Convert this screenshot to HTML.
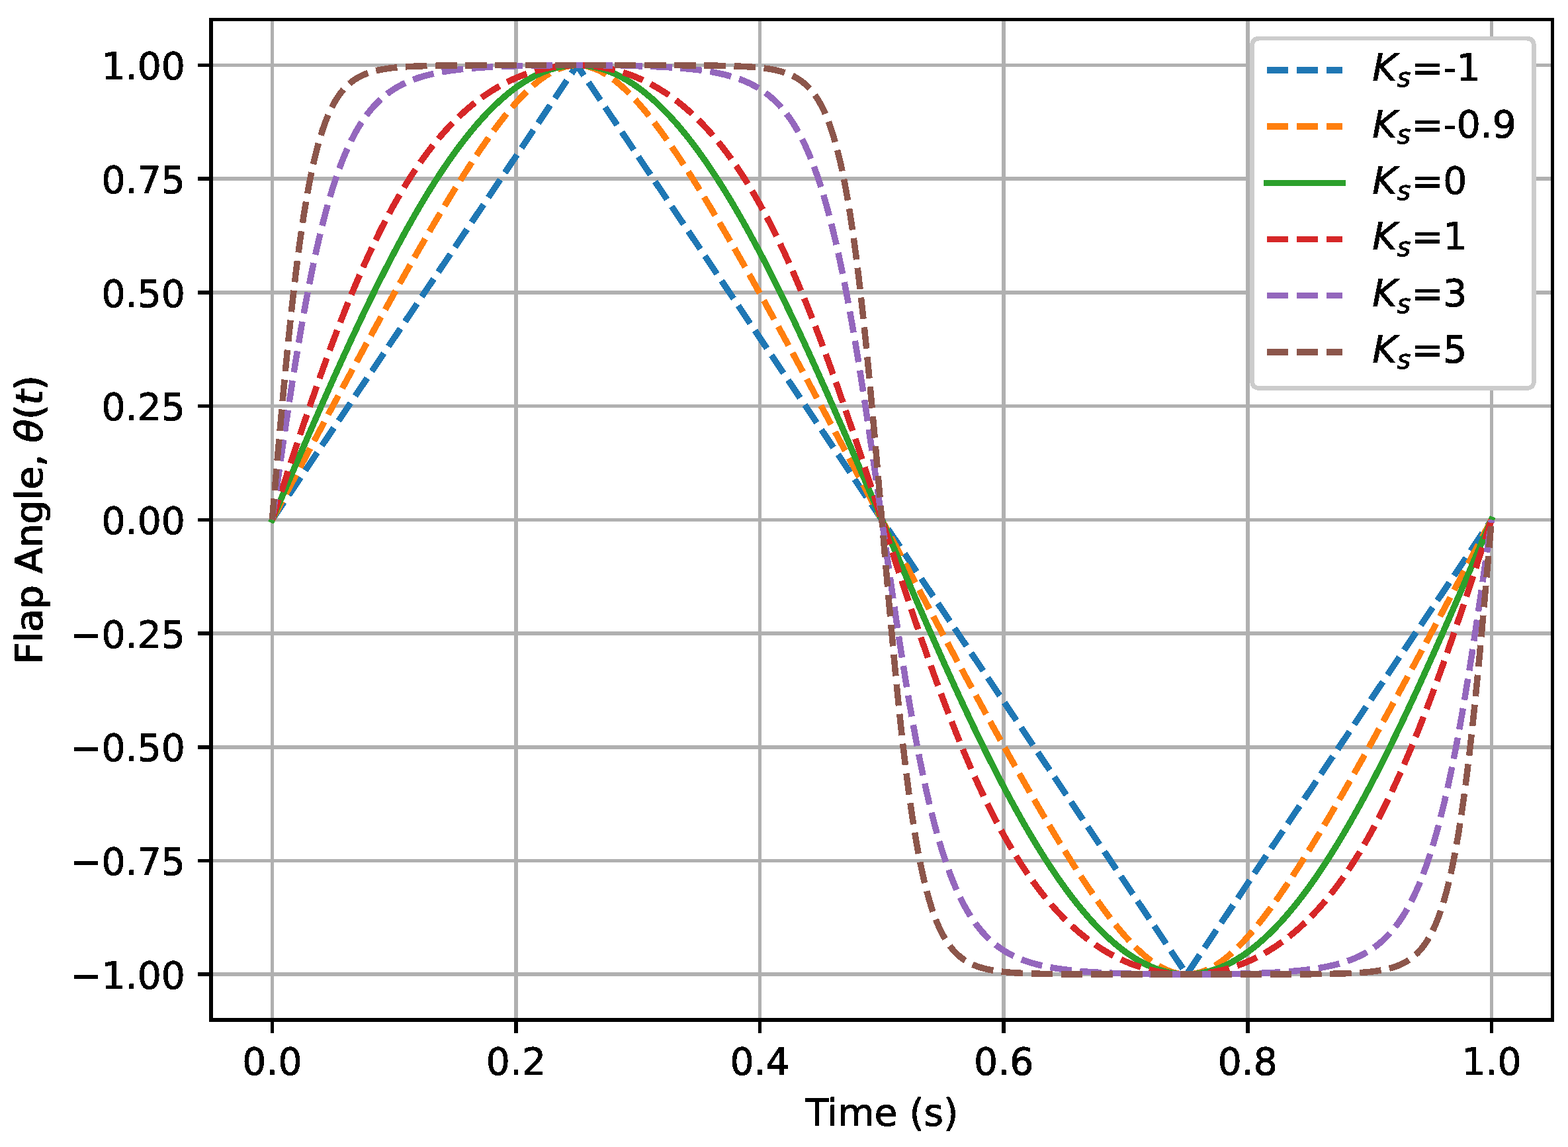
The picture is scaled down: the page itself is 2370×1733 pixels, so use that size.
<!DOCTYPE html>
<html lang="en">
<head>
<meta charset="utf-8">
<title>Flap Angle vs Time</title>
<style>
html,body{margin:0;padding:0;background:#fff}
svg{display:block}
text{font-family:"DejaVu Sans","Liberation Sans",sans-serif;font-size:56.77px;fill:#000;stroke:#000;stroke-width:0.2;stroke-linejoin:miter;text-rendering:geometricPrecision}
.it{font-style:oblique}
.sub{font-style:oblique;font-size:39.74px}
.grid rect{fill:#b0b0b0}
.curve{fill:none;stroke-linejoin:round;stroke-width:9.52}
.dash{stroke-dasharray:32.51 12.63;stroke-dashoffset:0.5}
</style>
</head>
<body>
<svg width="2370" height="1733" viewBox="0 0 2370 1733" role="img" aria-label="Flap angle versus time for several values of K_s">
<defs>
<clipPath id="ax"><rect x="316" y="27" width="2033" height="1517"/></clipPath>
<filter id="crisp" x="0" y="0" width="2370" height="1733" filterUnits="userSpaceOnUse" color-interpolation-filters="sRGB"><feComponentTransfer><feFuncA type="discrete" tableValues="0 1 1 1 1 1 1 1 1 1"/></feComponentTransfer></filter>
</defs>
<rect width="2370" height="1733" fill="#fff"/>
<g class="grid" shape-rendering="crispEdges">
<rect x="409" y="32" width="5" height="1506"/>
<rect x="777" y="32" width="6" height="1506"/>
<rect x="1146" y="32" width="5" height="1506"/>
<rect x="1514" y="32" width="6" height="1506"/>
<rect x="1883" y="32" width="6" height="1506"/>
<rect x="2252" y="32" width="5" height="1506"/>
<rect x="322" y="96" width="2022" height="5"/>
<rect x="322" y="267" width="2022" height="6"/>
<rect x="322" y="439" width="2022" height="6"/>
<rect x="322" y="611" width="2022" height="5"/>
<rect x="322" y="783" width="2022" height="5"/>
<rect x="322" y="954" width="2022" height="6"/>
<rect x="322" y="1126" width="2022" height="6"/>
<rect x="322" y="1298" width="2022" height="5"/>
<rect x="322" y="1469" width="2022" height="6"/>
</g>
<g clip-path="url(#ax)" shape-rendering="crispEdges">
<polyline class="curve dash" stroke="#1f77b4" points="411.4,785.35 413.24,782.6 415.09,779.85 416.93,777.1 418.78,774.35 420.62,771.6 422.47,768.85 424.31,766.1 426.16,763.35 428,760.6 429.85,757.85 431.69,755.1 433.54,752.35 435.38,749.6 437.23,746.85 439.07,744.1 440.92,741.35 442.76,738.6 444.61,735.85 446.45,733.1 448.3,730.35 450.14,727.6 451.99,724.85 453.83,722.1 455.68,719.35 457.52,716.6 459.37,713.85 461.21,711.1 463.06,708.35 464.9,705.6 466.75,702.85 468.59,700.1 470.44,697.35 472.28,694.6 474.12,691.85 475.97,689.1 477.81,686.35 479.66,683.6 481.5,680.85 483.35,678.1 485.19,675.35 487.04,672.6 488.88,669.85 490.73,667.1 492.57,664.35 494.42,661.6 496.26,658.85 498.11,656.1 499.95,653.35 501.8,650.6 503.64,647.85 505.49,645.1 507.33,642.35 509.18,639.6 511.02,636.85 512.87,634.1 514.71,631.35 516.56,628.6 518.4,625.85 520.25,623.1 522.09,620.35 523.94,617.6 525.78,614.85 527.63,612.1 529.47,609.35 531.31,606.6 533.16,603.85 535,601.1 536.85,598.35 538.69,595.6 540.54,592.85 542.38,590.1 544.23,587.35 546.07,584.6 547.92,581.85 549.76,579.1 551.61,576.35 553.45,573.6 555.3,570.85 557.14,568.1 558.99,565.35 560.83,562.6 562.68,559.85 564.52,557.1 566.37,554.35 568.21,551.6 570.06,548.85 571.9,546.1 573.75,543.35 575.59,540.6 577.44,537.85 579.28,535.1 581.13,532.35 582.97,529.6 584.82,526.85 586.66,524.1 588.51,521.35 590.35,518.6 592.19,515.85 594.04,513.1 595.88,510.36 597.73,507.61 599.57,504.86 601.42,502.11 603.26,499.36 605.11,496.61 606.95,493.86 608.8,491.11 610.64,488.36 612.49,485.61 614.33,482.86 616.18,480.11 618.02,477.36 619.87,474.61 621.71,471.86 623.56,469.11 625.4,466.36 627.25,463.61 629.09,460.86 630.94,458.11 632.78,455.36 634.63,452.61 636.47,449.86 638.32,447.11 640.16,444.36 642.01,441.61 643.85,438.86 645.7,436.11 647.54,433.36 649.38,430.61 651.23,427.86 653.07,425.11 654.92,422.36 656.76,419.61 658.61,416.86 660.45,414.11 662.3,411.36 664.14,408.61 665.99,405.86 667.83,403.11 669.68,400.36 671.52,397.61 673.37,394.86 675.21,392.11 677.06,389.36 678.9,386.61 680.75,383.86 682.59,381.11 684.44,378.36 686.28,375.61 688.13,372.86 689.97,370.11 691.82,367.36 693.66,364.61 695.51,361.86 697.35,359.11 699.2,356.36 701.04,353.61 702.89,350.86 704.73,348.11 706.58,345.36 708.42,342.61 710.26,339.86 712.11,337.11 713.95,334.36 715.8,331.61 717.64,328.86 719.49,326.11 721.33,323.36 723.18,320.61 725.02,317.86 726.87,315.11 728.71,312.36 730.56,309.61 732.4,306.86 734.25,304.11 736.09,301.36 737.94,298.61 739.78,295.86 741.63,293.11 743.47,290.36 745.32,287.61 747.16,284.86 749.01,282.11 750.85,279.36 752.7,276.61 754.54,273.86 756.39,271.11 758.23,268.36 760.08,265.61 761.92,262.86 763.77,260.11 765.61,257.36 767.46,254.61 769.3,251.86 771.14,249.11 772.99,246.36 774.83,243.61 776.68,240.86 778.52,238.11 780.37,235.36 782.21,232.61 784.06,229.86 785.9,227.11 787.75,224.36 789.59,221.61 791.44,218.86 793.28,216.11 795.13,213.36 796.97,210.61 798.82,207.86 800.66,205.11 802.51,202.36 804.35,199.61 806.2,196.86 808.04,194.11 809.89,191.36 811.73,188.61 813.58,185.86 815.42,183.11 817.27,180.36 819.11,177.61 820.96,174.86 822.8,172.11 824.65,169.36 826.49,166.61 828.33,163.86 830.18,161.11 832.02,158.36 833.87,155.61 835.71,152.86 837.56,150.11 839.4,147.36 841.25,144.61 843.09,141.86 844.94,139.11 846.78,136.36 848.63,133.61 850.47,130.86 852.32,128.11 854.16,125.36 856.01,122.61 857.85,119.86 859.7,117.11 861.54,114.36 863.39,111.61 865.23,108.86 867.08,106.11 868.92,103.36 870.77,100.61 872.61,99.24 874.46,101.99 876.3,104.74 878.15,107.49 879.99,110.24 881.84,112.99 883.68,115.74 885.53,118.49 887.37,121.24 889.21,123.99 891.06,126.74 892.9,129.49 894.75,132.24 896.59,134.99 898.44,137.74 900.28,140.49 902.13,143.24 903.97,145.99 905.82,148.74 907.66,151.49 909.51,154.24 911.35,156.99 913.2,159.74 915.04,162.49 916.89,165.24 918.73,167.99 920.58,170.74 922.42,173.49 924.27,176.24 926.11,178.99 927.96,181.74 929.8,184.49 931.65,187.24 933.49,189.99 935.34,192.74 937.18,195.49 939.03,198.24 940.87,200.99 942.72,203.74 944.56,206.49 946.41,209.24 948.25,211.99 950.09,214.74 951.94,217.49 953.78,220.24 955.63,222.99 957.47,225.74 959.32,228.49 961.16,231.24 963.01,233.99 964.85,236.73 966.7,239.48 968.54,242.23 970.39,244.98 972.23,247.73 974.08,250.48 975.92,253.23 977.77,255.98 979.61,258.73 981.46,261.48 983.3,264.23 985.15,266.98 986.99,269.73 988.84,272.48 990.68,275.23 992.53,277.98 994.37,280.73 996.22,283.48 998.06,286.23 999.91,288.98 1001.75,291.73 1003.6,294.48 1005.44,297.23 1007.28,299.98 1009.13,302.73 1010.97,305.48 1012.82,308.23 1014.66,310.98 1016.51,313.73 1018.35,316.48 1020.2,319.23 1022.04,321.98 1023.89,324.73 1025.73,327.48 1027.58,330.23 1029.42,332.98 1031.27,335.73 1033.11,338.48 1034.96,341.23 1036.8,343.98 1038.65,346.73 1040.49,349.48 1042.34,352.23 1044.18,354.98 1046.03,357.73 1047.87,360.48 1049.72,363.23 1051.56,365.98 1053.41,368.73 1055.25,371.48 1057.1,374.23 1058.94,376.98 1060.79,379.73 1062.63,382.48 1064.48,385.23 1066.32,387.98 1068.16,390.73 1070.01,393.48 1071.85,396.23 1073.7,398.98 1075.54,401.73 1077.39,404.48 1079.23,407.23 1081.08,409.98 1082.92,412.73 1084.77,415.48 1086.61,418.23 1088.46,420.98 1090.3,423.73 1092.15,426.48 1093.99,429.23 1095.84,431.98 1097.68,434.73 1099.53,437.48 1101.37,440.23 1103.22,442.98 1105.06,445.73 1106.91,448.48 1108.75,451.23 1110.6,453.98 1112.44,456.73 1114.29,459.48 1116.13,462.23 1117.98,464.98 1119.82,467.73 1121.67,470.48 1123.51,473.23 1125.35,475.98 1127.2,478.73 1129.04,481.48 1130.89,484.23 1132.73,486.98 1134.58,489.73 1136.42,492.48 1138.27,495.23 1140.11,497.98 1141.96,500.73 1143.8,503.48 1145.65,506.23 1147.49,508.98 1149.34,511.73 1151.18,514.48 1153.03,517.23 1154.87,519.98 1156.72,522.73 1158.56,525.48 1160.41,528.23 1162.25,530.98 1164.1,533.73 1165.94,536.48 1167.79,539.23 1169.63,541.98 1171.48,544.73 1173.32,547.48 1175.17,550.23 1177.01,552.98 1178.86,555.73 1180.7,558.48 1182.55,561.23 1184.39,563.98 1186.23,566.73 1188.08,569.48 1189.92,572.23 1191.77,574.98 1193.61,577.73 1195.46,580.48 1197.3,583.23 1199.15,585.98 1200.99,588.73 1202.84,591.48 1204.68,594.23 1206.53,596.98 1208.37,599.73 1210.22,602.48 1212.06,605.23 1213.91,607.98 1215.75,610.73 1217.6,613.48 1219.44,616.23 1221.29,618.98 1223.13,621.73 1224.98,624.48 1226.82,627.23 1228.67,629.98 1230.51,632.73 1232.36,635.48 1234.2,638.23 1236.05,640.98 1237.89,643.73 1239.74,646.48 1241.58,649.23 1243.43,651.98 1245.27,654.73 1247.11,657.48 1248.96,660.23 1250.8,662.98 1252.65,665.73 1254.49,668.48 1256.34,671.23 1258.18,673.98 1260.03,676.73 1261.87,679.48 1263.72,682.23 1265.56,684.98 1267.41,687.73 1269.25,690.48 1271.1,693.23 1272.94,695.98 1274.79,698.73 1276.63,701.48 1278.48,704.23 1280.32,706.98 1282.17,709.73 1284.01,712.48 1285.86,715.23 1287.7,717.98 1289.55,720.73 1291.39,723.48 1293.24,726.23 1295.08,728.98 1296.93,731.73 1298.77,734.48 1300.62,737.23 1302.46,739.98 1304.3,742.73 1306.15,745.48 1307.99,748.23 1309.84,750.98 1311.68,753.73 1313.53,756.48 1315.37,759.23 1317.22,761.98 1319.06,764.73 1320.91,767.48 1322.75,770.23 1324.6,772.98 1326.44,775.73 1328.29,778.48 1330.13,781.23 1331.98,783.98 1333.82,786.72 1335.67,789.47 1337.51,792.22 1339.36,794.97 1341.2,797.72 1343.05,800.47 1344.89,803.22 1346.74,805.97 1348.58,808.72 1350.43,811.47 1352.27,814.22 1354.12,816.97 1355.96,819.72 1357.81,822.47 1359.65,825.22 1361.5,827.97 1363.34,830.72 1365.18,833.47 1367.03,836.22 1368.87,838.97 1370.72,841.72 1372.56,844.47 1374.41,847.22 1376.25,849.97 1378.1,852.72 1379.94,855.47 1381.79,858.22 1383.63,860.97 1385.48,863.72 1387.32,866.47 1389.17,869.22 1391.01,871.97 1392.86,874.72 1394.7,877.47 1396.55,880.22 1398.39,882.97 1400.24,885.72 1402.08,888.47 1403.93,891.22 1405.77,893.97 1407.62,896.72 1409.46,899.47 1411.31,902.22 1413.15,904.97 1415,907.72 1416.84,910.47 1418.69,913.22 1420.53,915.97 1422.37,918.72 1424.22,921.47 1426.06,924.22 1427.91,926.97 1429.75,929.72 1431.6,932.47 1433.44,935.22 1435.29,937.97 1437.13,940.72 1438.98,943.47 1440.82,946.22 1442.67,948.97 1444.51,951.72 1446.36,954.47 1448.2,957.22 1450.05,959.97 1451.89,962.72 1453.74,965.47 1455.58,968.22 1457.43,970.97 1459.27,973.72 1461.12,976.47 1462.96,979.22 1464.81,981.97 1466.65,984.72 1468.5,987.47 1470.34,990.22 1472.19,992.97 1474.03,995.72 1475.88,998.47 1477.72,1001.22 1479.57,1003.97 1481.41,1006.72 1483.25,1009.47 1485.1,1012.22 1486.94,1014.97 1488.79,1017.72 1490.63,1020.47 1492.48,1023.22 1494.32,1025.97 1496.17,1028.72 1498.01,1031.47 1499.86,1034.22 1501.7,1036.97 1503.55,1039.72 1505.39,1042.47 1507.24,1045.22 1509.08,1047.97 1510.93,1050.72 1512.77,1053.47 1514.62,1056.22 1516.46,1058.97 1518.31,1061.72 1520.15,1064.47 1522,1067.22 1523.84,1069.97 1525.69,1072.72 1527.53,1075.47 1529.38,1078.22 1531.22,1080.97 1533.07,1083.72 1534.91,1086.47 1536.76,1089.22 1538.6,1091.97 1540.45,1094.72 1542.29,1097.47 1544.13,1100.22 1545.98,1102.97 1547.82,1105.72 1549.67,1108.47 1551.51,1111.22 1553.36,1113.97 1555.2,1116.72 1557.05,1119.47 1558.89,1122.22 1560.74,1124.97 1562.58,1127.72 1564.43,1130.47 1566.27,1133.22 1568.12,1135.97 1569.96,1138.72 1571.81,1141.47 1573.65,1144.22 1575.5,1146.97 1577.34,1149.72 1579.19,1152.47 1581.03,1155.22 1582.88,1157.97 1584.72,1160.72 1586.57,1163.47 1588.41,1166.22 1590.26,1168.97 1592.1,1171.72 1593.95,1174.47 1595.79,1177.22 1597.64,1179.97 1599.48,1182.72 1601.32,1185.47 1603.17,1188.22 1605.01,1190.97 1606.86,1193.72 1608.7,1196.47 1610.55,1199.22 1612.39,1201.97 1614.24,1204.72 1616.08,1207.47 1617.93,1210.22 1619.77,1212.97 1621.62,1215.72 1623.46,1218.47 1625.31,1221.22 1627.15,1223.97 1629,1226.72 1630.84,1229.47 1632.69,1232.22 1634.53,1234.97 1636.38,1237.72 1638.22,1240.47 1640.07,1243.22 1641.91,1245.97 1643.76,1248.72 1645.6,1251.47 1647.45,1254.22 1649.29,1256.97 1651.14,1259.72 1652.98,1262.47 1654.83,1265.22 1656.67,1267.97 1658.52,1270.72 1660.36,1273.47 1662.2,1276.22 1664.05,1278.97 1665.89,1281.72 1667.74,1284.47 1669.58,1287.22 1671.43,1289.97 1673.27,1292.72 1675.12,1295.47 1676.96,1298.22 1678.81,1300.97 1680.65,1303.72 1682.5,1306.47 1684.34,1309.22 1686.19,1311.97 1688.03,1314.72 1689.88,1317.47 1691.72,1320.22 1693.57,1322.97 1695.41,1325.72 1697.26,1328.47 1699.1,1331.22 1700.95,1333.97 1702.79,1336.71 1704.64,1339.46 1706.48,1342.21 1708.33,1344.96 1710.17,1347.71 1712.02,1350.46 1713.86,1353.21 1715.71,1355.96 1717.55,1358.71 1719.39,1361.46 1721.24,1364.21 1723.08,1366.96 1724.93,1369.71 1726.77,1372.46 1728.62,1375.21 1730.46,1377.96 1732.31,1380.71 1734.15,1383.46 1736,1386.21 1737.84,1388.96 1739.69,1391.71 1741.53,1394.46 1743.38,1397.21 1745.22,1399.96 1747.07,1402.71 1748.91,1405.46 1750.76,1408.21 1752.6,1410.96 1754.45,1413.71 1756.29,1416.46 1758.14,1419.21 1759.98,1421.96 1761.83,1424.71 1763.67,1427.46 1765.52,1430.21 1767.36,1432.96 1769.21,1435.71 1771.05,1438.46 1772.9,1441.21 1774.74,1443.96 1776.59,1446.71 1778.43,1449.46 1780.27,1452.21 1782.12,1454.96 1783.96,1457.71 1785.81,1460.46 1787.65,1463.21 1789.5,1465.96 1791.34,1468.71 1793.19,1471.46 1795.03,1470.09 1796.88,1467.34 1798.72,1464.59 1800.57,1461.84 1802.41,1459.09 1804.26,1456.34 1806.1,1453.59 1807.95,1450.84 1809.79,1448.09 1811.64,1445.34 1813.48,1442.59 1815.33,1439.84 1817.17,1437.09 1819.02,1434.34 1820.86,1431.59 1822.71,1428.84 1824.55,1426.09 1826.4,1423.34 1828.24,1420.59 1830.09,1417.84 1831.93,1415.09 1833.78,1412.34 1835.62,1409.59 1837.47,1406.84 1839.31,1404.09 1841.15,1401.34 1843,1398.59 1844.84,1395.84 1846.69,1393.09 1848.53,1390.34 1850.38,1387.59 1852.22,1384.84 1854.07,1382.09 1855.91,1379.34 1857.76,1376.59 1859.6,1373.84 1861.45,1371.09 1863.29,1368.34 1865.14,1365.59 1866.98,1362.84 1868.83,1360.09 1870.67,1357.34 1872.52,1354.59 1874.36,1351.84 1876.21,1349.09 1878.05,1346.34 1879.9,1343.59 1881.74,1340.84 1883.59,1338.09 1885.43,1335.34 1887.28,1332.59 1889.12,1329.84 1890.97,1327.09 1892.81,1324.34 1894.66,1321.59 1896.5,1318.84 1898.34,1316.09 1900.19,1313.34 1902.03,1310.59 1903.88,1307.84 1905.72,1305.09 1907.57,1302.34 1909.41,1299.59 1911.26,1296.84 1913.1,1294.09 1914.95,1291.34 1916.79,1288.59 1918.64,1285.84 1920.48,1283.09 1922.33,1280.34 1924.17,1277.59 1926.02,1274.84 1927.86,1272.09 1929.71,1269.34 1931.55,1266.59 1933.4,1263.84 1935.24,1261.09 1937.09,1258.34 1938.93,1255.59 1940.78,1252.84 1942.62,1250.09 1944.47,1247.34 1946.31,1244.59 1948.16,1241.84 1950,1239.09 1951.85,1236.34 1953.69,1233.59 1955.54,1230.84 1957.38,1228.09 1959.22,1225.34 1961.07,1222.59 1962.91,1219.84 1964.76,1217.09 1966.6,1214.34 1968.45,1211.59 1970.29,1208.84 1972.14,1206.09 1973.98,1203.34 1975.83,1200.59 1977.67,1197.84 1979.52,1195.09 1981.36,1192.34 1983.21,1189.59 1985.05,1186.84 1986.9,1184.09 1988.74,1181.34 1990.59,1178.59 1992.43,1175.84 1994.28,1173.09 1996.12,1170.34 1997.97,1167.59 1999.81,1164.84 2001.66,1162.09 2003.5,1159.34 2005.35,1156.59 2007.19,1153.84 2009.04,1151.09 2010.88,1148.34 2012.73,1145.59 2014.57,1142.84 2016.42,1140.09 2018.26,1137.34 2020.1,1134.59 2021.95,1131.84 2023.79,1129.09 2025.64,1126.34 2027.48,1123.59 2029.33,1120.84 2031.17,1118.09 2033.02,1115.34 2034.86,1112.59 2036.71,1109.84 2038.55,1107.09 2040.4,1104.34 2042.24,1101.59 2044.09,1098.84 2045.93,1096.09 2047.78,1093.34 2049.62,1090.59 2051.47,1087.84 2053.31,1085.09 2055.16,1082.34 2057,1079.59 2058.85,1076.84 2060.69,1074.09 2062.54,1071.34 2064.38,1068.59 2066.23,1065.84 2068.07,1063.09 2069.92,1060.34 2071.76,1057.6 2073.61,1054.85 2075.45,1052.1 2077.29,1049.35 2079.14,1046.6 2080.98,1043.85 2082.83,1041.1 2084.67,1038.35 2086.52,1035.6 2088.36,1032.85 2090.21,1030.1 2092.05,1027.35 2093.9,1024.6 2095.74,1021.85 2097.59,1019.1 2099.43,1016.35 2101.28,1013.6 2103.12,1010.85 2104.97,1008.1 2106.81,1005.35 2108.66,1002.6 2110.5,999.85 2112.35,997.1 2114.19,994.35 2116.04,991.6 2117.88,988.85 2119.73,986.1 2121.57,983.35 2123.42,980.6 2125.26,977.85 2127.11,975.1 2128.95,972.35 2130.8,969.6 2132.64,966.85 2134.49,964.1 2136.33,961.35 2138.17,958.6 2140.02,955.85 2141.86,953.1 2143.71,950.35 2145.55,947.6 2147.4,944.85 2149.24,942.1 2151.09,939.35 2152.93,936.6 2154.78,933.85 2156.62,931.1 2158.47,928.35 2160.31,925.6 2162.16,922.85 2164,920.1 2165.85,917.35 2167.69,914.6 2169.54,911.85 2171.38,909.1 2173.23,906.35 2175.07,903.6 2176.92,900.85 2178.76,898.1 2180.61,895.35 2182.45,892.6 2184.3,889.85 2186.14,887.1 2187.99,884.35 2189.83,881.6 2191.68,878.85 2193.52,876.1 2195.36,873.35 2197.21,870.6 2199.05,867.85 2200.9,865.1 2202.74,862.35 2204.59,859.6 2206.43,856.85 2208.28,854.1 2210.12,851.35 2211.97,848.6 2213.81,845.85 2215.66,843.1 2217.5,840.35 2219.35,837.6 2221.19,834.85 2223.04,832.1 2224.88,829.35 2226.73,826.6 2228.57,823.85 2230.42,821.1 2232.26,818.35 2234.11,815.6 2235.95,812.85 2237.8,810.1 2239.64,807.35 2241.49,804.6 2243.33,801.85 2245.18,799.1 2247.02,796.35 2248.87,793.6 2250.71,790.85 2252.56,788.1 2254.4,785.35"/>
<polyline class="curve dash" stroke="#ff7f0e" points="411.4,785.35 413.24,781.88 415.09,778.41 416.93,774.93 418.78,771.46 420.62,767.99 422.47,764.52 424.31,761.05 426.16,757.58 428,754.11 429.85,750.64 431.69,747.17 433.54,743.7 435.38,740.23 437.23,736.76 439.07,733.29 440.92,729.82 442.76,726.35 444.61,722.88 446.45,719.42 448.3,715.95 450.14,712.48 451.99,709.02 453.83,705.55 455.68,702.09 457.52,698.62 459.37,695.16 461.21,691.7 463.06,688.24 464.9,684.77 466.75,681.31 468.59,677.85 470.44,674.4 472.28,670.94 474.12,667.48 475.97,664.03 477.81,660.57 479.66,657.12 481.5,653.66 483.35,650.21 485.19,646.76 487.04,643.31 488.88,639.86 490.73,636.42 492.57,632.97 494.42,629.52 496.26,626.08 498.11,622.64 499.95,619.2 501.8,615.76 503.64,612.32 505.49,608.88 507.33,605.45 509.18,602.01 511.02,598.58 512.87,595.15 514.71,591.72 516.56,588.29 518.4,584.87 520.25,581.45 522.09,578.02 523.94,574.6 525.78,571.18 527.63,567.77 529.47,564.35 531.31,560.94 533.16,557.53 535,554.12 536.85,550.72 538.69,547.31 540.54,543.91 542.38,540.51 544.23,537.11 546.07,533.72 547.92,530.32 549.76,526.93 551.61,523.55 553.45,520.16 555.3,516.78 557.14,513.4 558.99,510.02 560.83,506.65 562.68,503.27 564.52,499.91 566.37,496.54 568.21,493.18 570.06,489.82 571.9,486.46 573.75,483.11 575.59,479.75 577.44,476.41 579.28,473.06 581.13,469.72 582.97,466.38 584.82,463.05 586.66,459.72 588.51,456.39 590.35,453.07 592.19,449.75 594.04,446.44 595.88,443.12 597.73,439.82 599.57,436.51 601.42,433.21 603.26,429.92 605.11,426.63 606.95,423.34 608.8,420.06 610.64,416.78 612.49,413.51 614.33,410.24 616.18,406.98 618.02,403.72 619.87,400.47 621.71,397.22 623.56,393.98 625.4,390.74 627.25,387.51 629.09,384.28 630.94,381.06 632.78,377.85 634.63,374.64 636.47,371.43 638.32,368.24 640.16,365.04 642.01,361.86 643.85,358.68 645.7,355.51 647.54,352.34 649.38,349.18 651.23,346.03 653.07,342.89 654.92,339.75 656.76,336.62 658.61,333.5 660.45,330.38 662.3,327.28 664.14,324.18 665.99,321.09 667.83,318 669.68,314.93 671.52,311.86 673.37,308.8 675.21,305.76 677.06,302.72 678.9,299.69 680.75,296.67 682.59,293.66 684.44,290.65 686.28,287.66 688.13,284.68 689.97,281.71 691.82,278.75 693.66,275.8 695.51,272.87 697.35,269.94 699.2,267.02 701.04,264.12 702.89,261.23 704.73,258.35 706.58,255.49 708.42,252.63 710.26,249.79 712.11,246.97 713.95,244.15 715.8,241.35 717.64,238.57 719.49,235.8 721.33,233.04 723.18,230.3 725.02,227.57 726.87,224.86 728.71,222.17 730.56,219.49 732.4,216.83 734.25,214.19 736.09,211.56 737.94,208.95 739.78,206.36 741.63,203.79 743.47,201.24 745.32,198.7 747.16,196.19 749.01,193.7 750.85,191.22 752.7,188.77 754.54,186.34 756.39,183.93 758.23,181.54 760.08,179.18 761.92,176.83 763.77,174.52 765.61,172.22 767.46,169.95 769.3,167.71 771.14,165.49 772.99,163.3 774.83,161.13 776.68,158.99 778.52,156.88 780.37,154.8 782.21,152.74 784.06,150.72 785.9,148.72 787.75,146.76 789.59,144.82 791.44,142.92 793.28,141.05 795.13,139.21 796.97,137.4 798.82,135.63 800.66,133.89 802.51,132.19 804.35,130.52 806.2,128.89 808.04,127.3 809.89,125.74 811.73,124.22 813.58,122.74 815.42,121.29 817.27,119.89 819.11,118.53 820.96,117.21 822.8,115.93 824.65,114.69 826.49,113.49 828.33,112.33 830.18,111.22 832.02,110.15 833.87,109.13 835.71,108.15 837.56,107.22 839.4,106.33 841.25,105.49 843.09,104.69 844.94,103.95 846.78,103.25 848.63,102.59 850.47,101.99 852.32,101.43 854.16,100.92 856.01,100.46 857.85,100.05 859.7,99.69 861.54,99.38 863.39,99.11 865.23,98.9 867.08,98.74 868.92,98.63 870.77,98.56 872.61,98.55 874.46,98.59 876.3,98.68 878.15,98.81 879.99,99 881.84,99.24 883.68,99.53 885.53,99.86 887.37,100.25 889.21,100.68 891.06,101.17 892.9,101.7 894.75,102.28 896.59,102.91 898.44,103.59 900.28,104.31 902.13,105.09 903.97,105.91 905.82,106.77 907.66,107.68 909.51,108.64 911.35,109.64 913.2,110.68 915.04,111.77 916.89,112.91 918.73,114.08 920.58,115.3 922.42,116.56 924.27,117.86 926.11,119.21 927.96,120.59 929.8,122.01 931.65,123.47 933.49,124.97 935.34,126.51 937.18,128.09 939.03,129.7 940.87,131.35 942.72,133.04 944.56,134.76 946.41,136.51 948.25,138.3 950.09,140.12 951.94,141.98 953.78,143.87 955.63,145.78 957.47,147.73 959.32,149.72 961.16,151.73 963.01,153.77 964.85,155.84 966.7,157.93 968.54,160.06 970.39,162.21 972.23,164.39 974.08,166.6 975.92,168.83 977.77,171.09 979.61,173.37 981.46,175.67 983.3,178 985.15,180.36 986.99,182.73 988.84,185.13 990.68,187.55 992.53,189.99 994.37,192.46 996.22,194.94 998.06,197.44 999.91,199.97 1001.75,202.51 1003.6,205.07 1005.44,207.66 1007.28,210.26 1009.13,212.87 1010.97,215.51 1012.82,218.16 1014.66,220.83 1016.51,223.52 1018.35,226.22 1020.2,228.94 1022.04,231.67 1023.89,234.42 1025.73,237.18 1027.58,239.96 1029.42,242.75 1031.27,245.56 1033.11,248.38 1034.96,251.21 1036.8,254.06 1038.65,256.92 1040.49,259.79 1042.34,262.68 1044.18,265.57 1046.03,268.48 1047.87,271.4 1049.72,274.33 1051.56,277.28 1053.41,280.23 1055.25,283.2 1057.1,286.17 1058.94,289.16 1060.79,292.15 1062.63,295.16 1064.48,298.18 1066.32,301.2 1068.16,304.24 1070.01,307.28 1071.85,310.33 1073.7,313.39 1075.54,316.46 1077.39,319.54 1079.23,322.63 1081.08,325.73 1082.92,328.83 1084.77,331.94 1086.61,335.06 1088.46,338.18 1090.3,341.32 1092.15,344.46 1093.99,347.61 1095.84,350.76 1097.68,353.93 1099.53,357.09 1101.37,360.27 1103.22,363.45 1105.06,366.64 1106.91,369.83 1108.75,373.03 1110.6,376.24 1112.44,379.45 1114.29,382.67 1116.13,385.9 1117.98,389.12 1119.82,392.36 1121.67,395.6 1123.51,398.84 1125.35,402.1 1127.2,405.35 1129.04,408.61 1130.89,411.88 1132.73,415.15 1134.58,418.42 1136.42,421.7 1138.27,424.99 1140.11,428.27 1141.96,431.57 1143.8,434.86 1145.65,438.17 1147.49,441.47 1149.34,444.78 1151.18,448.09 1153.03,451.41 1154.87,454.73 1156.72,458.06 1158.56,461.39 1160.41,464.72 1162.25,468.05 1164.1,471.39 1165.94,474.73 1167.79,478.08 1169.63,481.43 1171.48,484.78 1173.32,488.14 1175.17,491.5 1177.01,494.86 1178.86,498.22 1180.7,501.59 1182.55,504.96 1184.39,508.33 1186.23,511.71 1188.08,515.09 1189.92,518.47 1191.77,521.85 1193.61,525.24 1195.46,528.63 1197.3,532.02 1199.15,535.41 1200.99,538.81 1202.84,542.21 1204.68,545.61 1206.53,549.01 1208.37,552.42 1210.22,555.83 1212.06,559.24 1213.91,562.65 1215.75,566.06 1217.6,569.48 1219.44,572.89 1221.29,576.31 1223.13,579.73 1224.98,583.16 1226.82,586.58 1228.67,590.01 1230.51,593.44 1232.36,596.87 1234.2,600.3 1236.05,603.73 1237.89,607.16 1239.74,610.6 1241.58,614.04 1243.43,617.48 1245.27,620.92 1247.11,624.36 1248.96,627.8 1250.8,631.25 1252.65,634.69 1254.49,638.14 1256.34,641.59 1258.18,645.04 1260.03,648.49 1261.87,651.94 1263.72,655.39 1265.56,658.84 1267.41,662.3 1269.25,665.75 1271.1,669.21 1272.94,672.67 1274.79,676.12 1276.63,679.58 1278.48,683.04 1280.32,686.5 1282.17,689.97 1284.01,693.43 1285.86,696.89 1287.7,700.35 1289.55,703.82 1291.39,707.28 1293.24,710.75 1295.08,714.22 1296.93,717.68 1298.77,721.15 1300.62,724.62 1302.46,728.08 1304.3,731.55 1306.15,735.02 1307.99,738.49 1309.84,741.96 1311.68,745.43 1313.53,748.9 1315.37,752.37 1317.22,755.84 1319.06,759.31 1320.91,762.78 1322.75,766.26 1324.6,769.73 1326.44,773.2 1328.29,776.67 1330.13,780.14 1331.98,783.61 1333.82,787.09 1335.67,790.56 1337.51,794.03 1339.36,797.5 1341.2,800.97 1343.05,804.44 1344.89,807.92 1346.74,811.39 1348.58,814.86 1350.43,818.33 1352.27,821.8 1354.12,825.27 1355.96,828.74 1357.81,832.21 1359.65,835.68 1361.5,839.15 1363.34,842.62 1365.18,846.08 1367.03,849.55 1368.87,853.02 1370.72,856.48 1372.56,859.95 1374.41,863.42 1376.25,866.88 1378.1,870.35 1379.94,873.81 1381.79,877.27 1383.63,880.73 1385.48,884.2 1387.32,887.66 1389.17,891.12 1391.01,894.58 1392.86,898.03 1394.7,901.49 1396.55,904.95 1398.39,908.4 1400.24,911.86 1402.08,915.31 1403.93,918.76 1405.77,922.21 1407.62,925.66 1409.46,929.11 1411.31,932.56 1413.15,936.01 1415,939.45 1416.84,942.9 1418.69,946.34 1420.53,949.78 1422.37,953.22 1424.22,956.66 1426.06,960.1 1427.91,963.54 1429.75,966.97 1431.6,970.4 1433.44,973.83 1435.29,977.26 1437.13,980.69 1438.98,984.12 1440.82,987.54 1442.67,990.97 1444.51,994.39 1446.36,997.81 1448.2,1001.22 1450.05,1004.64 1451.89,1008.05 1453.74,1011.46 1455.58,1014.87 1457.43,1018.28 1459.27,1021.69 1461.12,1025.09 1462.96,1028.49 1464.81,1031.89 1466.65,1035.29 1468.5,1038.68 1470.34,1042.07 1472.19,1045.46 1474.03,1048.85 1475.88,1052.23 1477.72,1055.61 1479.57,1058.99 1481.41,1062.37 1483.25,1065.74 1485.1,1069.11 1486.94,1072.48 1488.79,1075.84 1490.63,1079.2 1492.48,1082.56 1494.32,1085.92 1496.17,1089.27 1498.01,1092.62 1499.86,1095.97 1501.7,1099.31 1503.55,1102.65 1505.39,1105.98 1507.24,1109.31 1509.08,1112.64 1510.93,1115.97 1512.77,1119.29 1514.62,1122.61 1516.46,1125.92 1518.31,1129.23 1520.15,1132.53 1522,1135.84 1523.84,1139.13 1525.69,1142.43 1527.53,1145.71 1529.38,1149 1531.22,1152.28 1533.07,1155.55 1534.91,1158.82 1536.76,1162.09 1538.6,1165.35 1540.45,1168.6 1542.29,1171.86 1544.13,1175.1 1545.98,1178.34 1547.82,1181.58 1549.67,1184.8 1551.51,1188.03 1553.36,1191.25 1555.2,1194.46 1557.05,1197.67 1558.89,1200.87 1560.74,1204.06 1562.58,1207.25 1564.43,1210.43 1566.27,1213.61 1568.12,1216.77 1569.96,1219.94 1571.81,1223.09 1573.65,1226.24 1575.5,1229.38 1577.34,1232.52 1579.19,1235.64 1581.03,1238.76 1582.88,1241.87 1584.72,1244.97 1586.57,1248.07 1588.41,1251.16 1590.26,1254.24 1592.1,1257.31 1593.95,1260.37 1595.79,1263.42 1597.64,1266.46 1599.48,1269.5 1601.32,1272.52 1603.17,1275.54 1605.01,1278.55 1606.86,1281.54 1608.7,1284.53 1610.55,1287.5 1612.39,1290.47 1614.24,1293.42 1616.08,1296.37 1617.93,1299.3 1619.77,1302.22 1621.62,1305.13 1623.46,1308.02 1625.31,1310.91 1627.15,1313.78 1629,1316.64 1630.84,1319.49 1632.69,1322.32 1634.53,1325.14 1636.38,1327.95 1638.22,1330.74 1640.07,1333.52 1641.91,1336.28 1643.76,1339.03 1645.6,1341.76 1647.45,1344.48 1649.29,1347.18 1651.14,1349.87 1652.98,1352.54 1654.83,1355.19 1656.67,1357.83 1658.52,1360.44 1660.36,1363.04 1662.2,1365.63 1664.05,1368.19 1665.89,1370.73 1667.74,1373.26 1669.58,1375.76 1671.43,1378.24 1673.27,1380.71 1675.12,1383.15 1676.96,1385.57 1678.81,1387.97 1680.65,1390.34 1682.5,1392.7 1684.34,1395.03 1686.19,1397.33 1688.03,1399.61 1689.88,1401.87 1691.72,1404.1 1693.57,1406.31 1695.41,1408.49 1697.26,1410.64 1699.1,1412.77 1700.95,1414.86 1702.79,1416.93 1704.64,1418.97 1706.48,1420.98 1708.33,1422.97 1710.17,1424.92 1712.02,1426.83 1713.86,1428.72 1715.71,1430.58 1717.55,1432.4 1719.39,1434.19 1721.24,1435.94 1723.08,1437.66 1724.93,1439.35 1726.77,1441 1728.62,1442.61 1730.46,1444.19 1732.31,1445.73 1734.15,1447.23 1736,1448.69 1737.84,1450.11 1739.69,1451.49 1741.53,1452.84 1743.38,1454.14 1745.22,1455.4 1747.07,1456.62 1748.91,1457.79 1750.76,1458.93 1752.6,1460.02 1754.45,1461.06 1756.29,1462.06 1758.14,1463.02 1759.98,1463.93 1761.83,1464.79 1763.67,1465.61 1765.52,1466.39 1767.36,1467.11 1769.21,1467.79 1771.05,1468.42 1772.9,1469 1774.74,1469.53 1776.59,1470.02 1778.43,1470.45 1780.27,1470.84 1782.12,1471.17 1783.96,1471.46 1785.81,1471.7 1787.65,1471.89 1789.5,1472.02 1791.34,1472.11 1793.19,1472.15 1795.03,1472.14 1796.88,1472.07 1798.72,1471.96 1800.57,1471.8 1802.41,1471.59 1804.26,1471.32 1806.1,1471.01 1807.95,1470.65 1809.79,1470.24 1811.64,1469.78 1813.48,1469.27 1815.33,1468.71 1817.17,1468.11 1819.02,1467.45 1820.86,1466.75 1822.71,1466.01 1824.55,1465.21 1826.4,1464.37 1828.24,1463.48 1830.09,1462.55 1831.93,1461.57 1833.78,1460.55 1835.62,1459.48 1837.47,1458.37 1839.31,1457.21 1841.15,1456.01 1843,1454.77 1844.84,1453.49 1846.69,1452.17 1848.53,1450.81 1850.38,1449.41 1852.22,1447.96 1854.07,1446.48 1855.91,1444.96 1857.76,1443.4 1859.6,1441.81 1861.45,1440.18 1863.29,1438.51 1865.14,1436.81 1866.98,1435.07 1868.83,1433.3 1870.67,1431.49 1872.52,1429.65 1874.36,1427.78 1876.21,1425.88 1878.05,1423.94 1879.9,1421.98 1881.74,1419.98 1883.59,1417.96 1885.43,1415.9 1887.28,1413.82 1889.12,1411.71 1890.97,1409.57 1892.81,1407.4 1894.66,1405.21 1896.5,1402.99 1898.34,1400.75 1900.19,1398.48 1902.03,1396.18 1903.88,1393.87 1905.72,1391.52 1907.57,1389.16 1909.41,1386.77 1911.26,1384.36 1913.1,1381.93 1914.95,1379.48 1916.79,1377 1918.64,1374.51 1920.48,1372 1922.33,1369.46 1924.17,1366.91 1926.02,1364.34 1927.86,1361.75 1929.71,1359.14 1931.55,1356.51 1933.4,1353.87 1935.24,1351.21 1937.09,1348.53 1938.93,1345.84 1940.78,1343.13 1942.62,1340.4 1944.47,1337.66 1946.31,1334.9 1948.16,1332.13 1950,1329.35 1951.85,1326.55 1953.69,1323.73 1955.54,1320.91 1957.38,1318.07 1959.22,1315.21 1961.07,1312.35 1962.91,1309.47 1964.76,1306.58 1966.6,1303.68 1968.45,1300.76 1970.29,1297.83 1972.14,1294.9 1973.98,1291.95 1975.83,1288.99 1977.67,1286.02 1979.52,1283.04 1981.36,1280.05 1983.21,1277.04 1985.05,1274.03 1986.9,1271.01 1988.74,1267.98 1990.59,1264.94 1992.43,1261.9 1994.28,1258.84 1996.12,1255.77 1997.97,1252.7 1999.81,1249.61 2001.66,1246.52 2003.5,1243.42 2005.35,1240.32 2007.19,1237.2 2009.04,1234.08 2010.88,1230.95 2012.73,1227.81 2014.57,1224.67 2016.42,1221.52 2018.26,1218.36 2020.1,1215.19 2021.95,1212.02 2023.79,1208.84 2025.64,1205.66 2027.48,1202.46 2029.33,1199.27 2031.17,1196.06 2033.02,1192.85 2034.86,1189.64 2036.71,1186.42 2038.55,1183.19 2040.4,1179.96 2042.24,1176.72 2044.09,1173.48 2045.93,1170.23 2047.78,1166.98 2049.62,1163.72 2051.47,1160.46 2053.31,1157.19 2055.16,1153.92 2057,1150.64 2058.85,1147.36 2060.69,1144.07 2062.54,1140.78 2064.38,1137.49 2066.23,1134.19 2068.07,1130.88 2069.92,1127.58 2071.76,1124.26 2073.61,1120.95 2075.45,1117.63 2077.29,1114.31 2079.14,1110.98 2080.98,1107.65 2082.83,1104.32 2084.67,1100.98 2086.52,1097.64 2088.36,1094.29 2090.21,1090.95 2092.05,1087.59 2093.9,1084.24 2095.74,1080.88 2097.59,1077.52 2099.43,1074.16 2101.28,1070.79 2103.12,1067.43 2104.97,1064.05 2106.81,1060.68 2108.66,1057.3 2110.5,1053.92 2112.35,1050.54 2114.19,1047.15 2116.04,1043.77 2117.88,1040.38 2119.73,1036.98 2121.57,1033.59 2123.42,1030.19 2125.26,1026.79 2127.11,1023.39 2128.95,1019.98 2130.8,1016.58 2132.64,1013.17 2134.49,1009.76 2136.33,1006.35 2138.17,1002.93 2140.02,999.52 2141.86,996.1 2143.71,992.68 2145.55,989.25 2147.4,985.83 2149.24,982.41 2151.09,978.98 2152.93,975.55 2154.78,972.12 2156.62,968.69 2158.47,965.25 2160.31,961.82 2162.16,958.38 2164,954.94 2165.85,951.5 2167.69,948.06 2169.54,944.62 2171.38,941.18 2173.23,937.73 2175.07,934.28 2176.92,930.84 2178.76,927.39 2180.61,923.94 2182.45,920.49 2184.3,917.04 2186.14,913.58 2187.99,910.13 2189.83,906.67 2191.68,903.22 2193.52,899.76 2195.36,896.3 2197.21,892.85 2199.05,889.39 2200.9,885.93 2202.74,882.46 2204.59,879 2206.43,875.54 2208.28,872.08 2210.12,868.61 2211.97,865.15 2213.81,861.68 2215.66,858.22 2217.5,854.75 2219.35,851.28 2221.19,847.82 2223.04,844.35 2224.88,840.88 2226.73,837.41 2228.57,833.94 2230.42,830.47 2232.26,827 2234.11,823.53 2235.95,820.06 2237.8,816.59 2239.64,813.12 2241.49,809.65 2243.33,806.18 2245.18,802.71 2247.02,799.24 2248.87,795.77 2250.71,792.29 2252.56,788.82 2254.4,785.35"/>
<polyline class="curve" stroke="#2ca02c" stroke-linecap="square" points="411.4,785.35 413.24,781.03 415.09,776.71 416.93,772.39 418.78,768.07 420.62,763.76 422.47,759.44 424.31,755.12 426.16,750.81 428,746.49 429.85,742.18 431.69,737.87 433.54,733.56 435.38,729.26 437.23,724.95 439.07,720.65 440.92,716.35 442.76,712.06 444.61,707.76 446.45,703.47 448.3,699.19 450.14,694.9 451.99,690.62 453.83,686.35 455.68,682.07 457.52,677.8 459.37,673.54 461.21,669.28 463.06,665.03 464.9,660.77 466.75,656.53 468.59,652.29 470.44,648.05 472.28,643.82 474.12,639.6 475.97,635.38 477.81,631.17 479.66,626.96 481.5,622.76 483.35,618.57 485.19,614.38 487.04,610.2 488.88,606.03 490.73,601.86 492.57,597.7 494.42,593.55 496.26,589.41 498.11,585.27 499.95,581.14 501.8,577.02 503.64,572.91 505.49,568.81 507.33,564.71 509.18,560.63 511.02,556.55 512.87,552.48 514.71,548.42 516.56,544.37 518.4,540.33 520.25,536.3 522.09,532.28 523.94,528.27 525.78,524.27 527.63,520.28 529.47,516.3 531.31,512.33 533.16,508.37 535,504.43 536.85,500.49 538.69,496.56 540.54,492.65 542.38,488.75 544.23,484.86 546.07,480.98 547.92,477.11 549.76,473.26 551.61,469.42 553.45,465.59 555.3,461.77 557.14,457.97 558.99,454.18 560.83,450.4 562.68,446.64 564.52,442.89 566.37,439.15 568.21,435.42 570.06,431.71 571.9,428.02 573.75,424.34 575.59,420.67 577.44,417.02 579.28,413.38 581.13,409.75 582.97,406.14 584.82,402.55 586.66,398.97 588.51,395.41 590.35,391.86 592.19,388.33 594.04,384.81 595.88,381.31 597.73,377.82 599.57,374.36 601.42,370.9 603.26,367.47 605.11,364.05 606.95,360.64 608.8,357.26 610.64,353.89 612.49,350.54 614.33,347.2 616.18,343.88 618.02,340.58 619.87,337.3 621.71,334.04 623.56,330.79 625.4,327.56 627.25,324.35 629.09,321.16 630.94,317.98 632.78,314.83 634.63,311.69 636.47,308.57 638.32,305.47 640.16,302.39 642.01,299.33 643.85,296.29 645.7,293.26 647.54,290.26 649.38,287.27 651.23,284.31 653.07,281.37 654.92,278.44 656.76,275.54 658.61,272.65 660.45,269.79 662.3,266.94 664.14,264.12 665.99,261.32 667.83,258.54 669.68,255.78 671.52,253.04 673.37,250.32 675.21,247.62 677.06,244.94 678.9,242.29 680.75,239.65 682.59,237.04 684.44,234.45 686.28,231.88 688.13,229.34 689.97,226.81 691.82,224.31 693.66,221.83 695.51,219.37 697.35,216.93 699.2,214.52 701.04,212.13 702.89,209.76 704.73,207.42 706.58,205.1 708.42,202.8 710.26,200.52 712.11,198.27 713.95,196.04 715.8,193.83 717.64,191.65 719.49,189.49 721.33,187.35 723.18,185.24 725.02,183.15 726.87,181.08 728.71,179.04 730.56,177.03 732.4,175.03 734.25,173.06 736.09,171.12 737.94,169.2 739.78,167.3 741.63,165.43 743.47,163.58 745.32,161.76 747.16,159.96 749.01,158.19 750.85,156.44 752.7,154.72 754.54,153.02 756.39,151.35 758.23,149.7 760.08,148.08 761.92,146.48 763.77,144.91 765.61,143.36 767.46,141.84 769.3,140.34 771.14,138.87 772.99,137.42 774.83,136 776.68,134.61 778.52,133.24 780.37,131.9 782.21,130.58 784.06,129.29 785.9,128.03 787.75,126.79 789.59,125.57 791.44,124.39 793.28,123.23 795.13,122.09 796.97,120.98 798.82,119.9 800.66,118.85 802.51,117.82 804.35,116.81 806.2,115.84 808.04,114.89 809.89,113.97 811.73,113.07 813.58,112.2 815.42,111.35 817.27,110.54 819.11,109.75 820.96,108.98 822.8,108.25 824.65,107.54 826.49,106.85 828.33,106.2 830.18,105.57 832.02,104.97 833.87,104.39 835.71,103.84 837.56,103.32 839.4,102.83 841.25,102.36 843.09,101.92 844.94,101.5 846.78,101.12 848.63,100.76 850.47,100.42 852.32,100.12 854.16,99.84 856.01,99.59 857.85,99.37 859.7,99.17 861.54,99 863.39,98.86 865.23,98.74 867.08,98.65 868.92,98.59 870.77,98.56 872.61,98.55 874.46,98.57 876.3,98.62 878.15,98.69 879.99,98.8 881.84,98.92 883.68,99.08 885.53,99.26 887.37,99.47 889.21,99.71 891.06,99.98 892.9,100.27 894.75,100.59 896.59,100.93 898.44,101.31 900.28,101.71 902.13,102.13 903.97,102.59 905.82,103.07 907.66,103.58 909.51,104.11 911.35,104.67 913.2,105.26 915.04,105.88 916.89,106.52 918.73,107.19 920.58,107.89 922.42,108.61 924.27,109.36 926.11,110.14 927.96,110.94 929.8,111.77 931.65,112.63 933.49,113.51 935.34,114.42 937.18,115.36 939.03,116.32 940.87,117.31 942.72,118.33 944.56,119.37 946.41,120.44 948.25,121.53 950.09,122.66 951.94,123.8 953.78,124.98 955.63,126.18 957.47,127.4 959.32,128.65 961.16,129.93 963.01,131.24 964.85,132.57 966.7,133.92 968.54,135.3 970.39,136.71 972.23,138.14 974.08,139.6 975.92,141.08 977.77,142.59 979.61,144.13 981.46,145.69 983.3,147.27 985.15,148.88 986.99,150.52 988.84,152.18 990.68,153.87 992.53,155.58 994.37,157.31 996.22,159.07 998.06,160.86 999.91,162.67 1001.75,164.5 1003.6,166.36 1005.44,168.25 1007.28,170.16 1009.13,172.09 1010.97,174.05 1012.82,176.03 1014.66,178.03 1016.51,180.06 1018.35,182.11 1020.2,184.19 1022.04,186.29 1023.89,188.42 1025.73,190.56 1027.58,192.74 1029.42,194.93 1031.27,197.15 1033.11,199.39 1034.96,201.66 1036.8,203.94 1038.65,206.25 1040.49,208.59 1042.34,210.94 1044.18,213.32 1046.03,215.73 1047.87,218.15 1049.72,220.6 1051.56,223.07 1053.41,225.56 1055.25,228.07 1057.1,230.61 1058.94,233.16 1060.79,235.74 1062.63,238.35 1064.48,240.97 1066.32,243.61 1068.16,246.28 1070.01,248.97 1071.85,251.67 1073.7,254.4 1075.54,257.15 1077.39,259.93 1079.23,262.72 1081.08,265.53 1082.92,268.36 1084.77,271.22 1086.61,274.09 1088.46,276.99 1090.3,279.9 1092.15,282.84 1093.99,285.79 1095.84,288.76 1097.68,291.76 1099.53,294.77 1101.37,297.8 1103.22,300.86 1105.06,303.93 1106.91,307.02 1108.75,310.13 1110.6,313.25 1112.44,316.4 1114.29,319.57 1116.13,322.75 1117.98,325.95 1119.82,329.17 1121.67,332.41 1123.51,335.67 1125.35,338.94 1127.2,342.23 1129.04,345.54 1130.89,348.87 1132.73,352.21 1134.58,355.57 1136.42,358.95 1138.27,362.34 1140.11,365.75 1141.96,369.18 1143.8,372.63 1145.65,376.09 1147.49,379.57 1149.34,383.06 1151.18,386.57 1153.03,390.09 1154.87,393.63 1156.72,397.19 1158.56,400.76 1160.41,404.35 1162.25,407.95 1164.1,411.56 1165.94,415.19 1167.79,418.84 1169.63,422.5 1171.48,426.18 1173.32,429.86 1175.17,433.57 1177.01,437.28 1178.86,441.02 1180.7,444.76 1182.55,448.52 1184.39,452.29 1186.23,456.07 1188.08,459.87 1189.92,463.68 1191.77,467.5 1193.61,471.34 1195.46,475.19 1197.3,479.05 1199.15,482.92 1200.99,486.8 1202.84,490.7 1204.68,494.61 1206.53,498.53 1208.37,502.46 1210.22,506.4 1212.06,510.35 1213.91,514.31 1215.75,518.29 1217.6,522.27 1219.44,526.27 1221.29,530.27 1223.13,534.29 1224.98,538.32 1226.82,542.35 1228.67,546.4 1230.51,550.45 1232.36,554.51 1234.2,558.59 1236.05,562.67 1237.89,566.76 1239.74,570.86 1241.58,574.97 1243.43,579.08 1245.27,583.21 1247.11,587.34 1248.96,591.48 1250.8,595.63 1252.65,599.78 1254.49,603.94 1256.34,608.11 1258.18,612.29 1260.03,616.48 1261.87,620.67 1263.72,624.86 1265.56,629.07 1267.41,633.27 1269.25,637.49 1271.1,641.71 1272.94,645.94 1274.79,650.17 1276.63,654.41 1278.48,658.65 1280.32,662.9 1282.17,667.15 1284.01,671.41 1285.86,675.67 1287.7,679.94 1289.55,684.21 1291.39,688.48 1293.24,692.76 1295.08,697.04 1296.93,701.33 1298.77,705.62 1300.62,709.91 1302.46,714.2 1304.3,718.5 1306.15,722.8 1307.99,727.11 1309.84,731.41 1311.68,735.72 1313.53,740.03 1315.37,744.34 1317.22,748.65 1319.06,752.96 1320.91,757.28 1322.75,761.6 1324.6,765.91 1326.44,770.23 1328.29,774.55 1330.13,778.87 1331.98,783.19 1333.82,787.51 1335.67,791.83 1337.51,796.15 1339.36,800.47 1341.2,804.79 1343.05,809.1 1344.89,813.42 1346.74,817.74 1348.58,822.05 1350.43,826.36 1352.27,830.67 1354.12,834.98 1355.96,839.29 1357.81,843.59 1359.65,847.9 1361.5,852.2 1363.34,856.5 1365.18,860.79 1367.03,865.08 1368.87,869.37 1370.72,873.66 1372.56,877.94 1374.41,882.22 1376.25,886.49 1378.1,890.76 1379.94,895.03 1381.79,899.29 1383.63,903.55 1385.48,907.8 1387.32,912.05 1389.17,916.29 1391.01,920.53 1392.86,924.76 1394.7,928.99 1396.55,933.21 1398.39,937.43 1400.24,941.63 1402.08,945.84 1403.93,950.03 1405.77,954.22 1407.62,958.41 1409.46,962.59 1411.31,966.76 1413.15,970.92 1415,975.07 1416.84,979.22 1418.69,983.36 1420.53,987.49 1422.37,991.62 1424.22,995.73 1426.06,999.84 1427.91,1003.94 1429.75,1008.03 1431.6,1012.11 1433.44,1016.19 1435.29,1020.25 1437.13,1024.3 1438.98,1028.35 1440.82,1032.38 1442.67,1036.41 1444.51,1040.43 1446.36,1044.43 1448.2,1048.43 1450.05,1052.41 1451.89,1056.39 1453.74,1060.35 1455.58,1064.3 1457.43,1068.24 1459.27,1072.17 1461.12,1076.09 1462.96,1080 1464.81,1083.9 1466.65,1087.78 1468.5,1091.65 1470.34,1095.51 1472.19,1099.36 1474.03,1103.2 1475.88,1107.02 1477.72,1110.83 1479.57,1114.63 1481.41,1118.41 1483.25,1122.18 1485.1,1125.94 1486.94,1129.68 1488.79,1133.42 1490.63,1137.13 1492.48,1140.84 1494.32,1144.52 1496.17,1148.2 1498.01,1151.86 1499.86,1155.51 1501.7,1159.14 1503.55,1162.75 1505.39,1166.35 1507.24,1169.94 1509.08,1173.51 1510.93,1177.07 1512.77,1180.61 1514.62,1184.13 1516.46,1187.64 1518.31,1191.13 1520.15,1194.61 1522,1198.07 1523.84,1201.52 1525.69,1204.95 1527.53,1208.36 1529.38,1211.75 1531.22,1215.13 1533.07,1218.49 1534.91,1221.83 1536.76,1225.16 1538.6,1228.47 1540.45,1231.76 1542.29,1235.03 1544.13,1238.29 1545.98,1241.53 1547.82,1244.75 1549.67,1247.95 1551.51,1251.13 1553.36,1254.3 1555.2,1257.45 1557.05,1260.57 1558.89,1263.68 1560.74,1266.77 1562.58,1269.84 1564.43,1272.9 1566.27,1275.93 1568.12,1278.94 1569.96,1281.94 1571.81,1284.91 1573.65,1287.86 1575.5,1290.8 1577.34,1293.71 1579.19,1296.61 1581.03,1299.48 1582.88,1302.34 1584.72,1305.17 1586.57,1307.98 1588.41,1310.77 1590.26,1313.55 1592.1,1316.3 1593.95,1319.03 1595.79,1321.73 1597.64,1324.42 1599.48,1327.09 1601.32,1329.73 1603.17,1332.35 1605.01,1334.96 1606.86,1337.54 1608.7,1340.09 1610.55,1342.63 1612.39,1345.14 1614.24,1347.63 1616.08,1350.1 1617.93,1352.55 1619.77,1354.97 1621.62,1357.38 1623.46,1359.76 1625.31,1362.11 1627.15,1364.45 1629,1366.76 1630.84,1369.04 1632.69,1371.31 1634.53,1373.55 1636.38,1375.77 1638.22,1377.96 1640.07,1380.14 1641.91,1382.28 1643.76,1384.41 1645.6,1386.51 1647.45,1388.59 1649.29,1390.64 1651.14,1392.67 1652.98,1394.67 1654.83,1396.65 1656.67,1398.61 1658.52,1400.54 1660.36,1402.45 1662.2,1404.34 1664.05,1406.2 1665.89,1408.03 1667.74,1409.84 1669.58,1411.63 1671.43,1413.39 1673.27,1415.12 1675.12,1416.83 1676.96,1418.52 1678.81,1420.18 1680.65,1421.82 1682.5,1423.43 1684.34,1425.01 1686.19,1426.57 1688.03,1428.11 1689.88,1429.62 1691.72,1431.1 1693.57,1432.56 1695.41,1433.99 1697.26,1435.4 1699.1,1436.78 1700.95,1438.13 1702.79,1439.46 1704.64,1440.77 1706.48,1442.05 1708.33,1443.3 1710.17,1444.52 1712.02,1445.72 1713.86,1446.9 1715.71,1448.04 1717.55,1449.17 1719.39,1450.26 1721.24,1451.33 1723.08,1452.37 1724.93,1453.39 1726.77,1454.38 1728.62,1455.34 1730.46,1456.28 1732.31,1457.19 1734.15,1458.07 1736,1458.93 1737.84,1459.76 1739.69,1460.56 1741.53,1461.34 1743.38,1462.09 1745.22,1462.81 1747.07,1463.51 1748.91,1464.18 1750.76,1464.82 1752.6,1465.44 1754.45,1466.03 1756.29,1466.59 1758.14,1467.12 1759.98,1467.63 1761.83,1468.11 1763.67,1468.57 1765.52,1468.99 1767.36,1469.39 1769.21,1469.77 1771.05,1470.11 1772.9,1470.43 1774.74,1470.72 1776.59,1470.99 1778.43,1471.23 1780.27,1471.44 1782.12,1471.62 1783.96,1471.78 1785.81,1471.9 1787.65,1472.01 1789.5,1472.08 1791.34,1472.13 1793.19,1472.15 1795.03,1472.14 1796.88,1472.11 1798.72,1472.05 1800.57,1471.96 1802.41,1471.84 1804.26,1471.7 1806.1,1471.53 1807.95,1471.33 1809.79,1471.11 1811.64,1470.86 1813.48,1470.58 1815.33,1470.28 1817.17,1469.94 1819.02,1469.58 1820.86,1469.2 1822.71,1468.78 1824.55,1468.34 1826.4,1467.87 1828.24,1467.38 1830.09,1466.86 1831.93,1466.31 1833.78,1465.73 1835.62,1465.13 1837.47,1464.5 1839.31,1463.85 1841.15,1463.16 1843,1462.45 1844.84,1461.72 1846.69,1460.95 1848.53,1460.16 1850.38,1459.35 1852.22,1458.5 1854.07,1457.63 1855.91,1456.73 1857.76,1455.81 1859.6,1454.86 1861.45,1453.89 1863.29,1452.88 1865.14,1451.85 1866.98,1450.8 1868.83,1449.72 1870.67,1448.61 1872.52,1447.47 1874.36,1446.31 1876.21,1445.13 1878.05,1443.91 1879.9,1442.67 1881.74,1441.41 1883.59,1440.12 1885.43,1438.8 1887.28,1437.46 1889.12,1436.09 1890.97,1434.7 1892.81,1433.28 1894.66,1431.83 1896.5,1430.36 1898.34,1428.86 1900.19,1427.34 1902.03,1425.79 1903.88,1424.22 1905.72,1422.62 1907.57,1421 1909.41,1419.35 1911.26,1417.68 1913.1,1415.98 1914.95,1414.26 1916.79,1412.51 1918.64,1410.74 1920.48,1408.94 1922.33,1407.12 1924.17,1405.27 1926.02,1403.4 1927.86,1401.5 1929.71,1399.58 1931.55,1397.64 1933.4,1395.67 1935.24,1393.67 1937.09,1391.66 1938.93,1389.62 1940.78,1387.55 1942.62,1385.46 1944.47,1383.35 1946.31,1381.21 1948.16,1379.05 1950,1376.87 1951.85,1374.66 1953.69,1372.43 1955.54,1370.18 1957.38,1367.9 1959.22,1365.6 1961.07,1363.28 1962.91,1360.94 1964.76,1358.57 1966.6,1356.18 1968.45,1353.77 1970.29,1351.33 1972.14,1348.87 1973.98,1346.39 1975.83,1343.89 1977.67,1341.36 1979.52,1338.82 1981.36,1336.25 1983.21,1333.66 1985.05,1331.05 1986.9,1328.41 1988.74,1325.76 1990.59,1323.08 1992.43,1320.38 1994.28,1317.66 1996.12,1314.92 1997.97,1312.16 1999.81,1309.38 2001.66,1306.58 2003.5,1303.76 2005.35,1300.91 2007.19,1298.05 2009.04,1295.16 2010.88,1292.26 2012.73,1289.33 2014.57,1286.39 2016.42,1283.43 2018.26,1280.44 2020.1,1277.44 2021.95,1274.41 2023.79,1271.37 2025.64,1268.31 2027.48,1265.23 2029.33,1262.13 2031.17,1259.01 2033.02,1255.87 2034.86,1252.72 2036.71,1249.54 2038.55,1246.35 2040.4,1243.14 2042.24,1239.91 2044.09,1236.66 2045.93,1233.4 2047.78,1230.12 2049.62,1226.82 2051.47,1223.5 2053.31,1220.16 2055.16,1216.81 2057,1213.44 2058.85,1210.06 2060.69,1206.65 2062.54,1203.23 2064.38,1199.8 2066.23,1196.34 2068.07,1192.88 2069.92,1189.39 2071.76,1185.89 2073.61,1182.37 2075.45,1178.84 2077.29,1175.29 2079.14,1171.73 2080.98,1168.15 2082.83,1164.56 2084.67,1160.95 2086.52,1157.32 2088.36,1153.68 2090.21,1150.03 2092.05,1146.36 2093.9,1142.68 2095.74,1138.99 2097.59,1135.28 2099.43,1131.55 2101.28,1127.81 2103.12,1124.06 2104.97,1120.3 2106.81,1116.52 2108.66,1112.73 2110.5,1108.93 2112.35,1105.11 2114.19,1101.28 2116.04,1097.44 2117.88,1093.59 2119.73,1089.72 2121.57,1085.84 2123.42,1081.95 2125.26,1078.05 2127.11,1074.14 2128.95,1070.21 2130.8,1066.27 2132.64,1062.33 2134.49,1058.37 2136.33,1054.4 2138.17,1050.42 2140.02,1046.43 2141.86,1042.43 2143.71,1038.42 2145.55,1034.4 2147.4,1030.37 2149.24,1026.33 2151.09,1022.28 2152.93,1018.22 2154.78,1014.15 2156.62,1010.07 2158.47,1005.99 2160.31,1001.89 2162.16,997.79 2164,993.68 2165.85,989.56 2167.69,985.43 2169.54,981.29 2171.38,977.15 2173.23,973 2175.07,968.84 2176.92,964.67 2178.76,960.5 2180.61,956.32 2182.45,952.13 2184.3,947.94 2186.14,943.74 2187.99,939.53 2189.83,935.32 2191.68,931.1 2193.52,926.88 2195.36,922.65 2197.21,918.41 2199.05,914.17 2200.9,909.93 2202.74,905.67 2204.59,901.42 2206.43,897.16 2208.28,892.9 2210.12,888.63 2211.97,884.35 2213.81,880.08 2215.66,875.8 2217.5,871.51 2219.35,867.23 2221.19,862.94 2223.04,858.64 2224.88,854.35 2226.73,850.05 2228.57,845.75 2230.42,841.44 2232.26,837.14 2234.11,832.83 2235.95,828.52 2237.8,824.21 2239.64,819.89 2241.49,815.58 2243.33,811.26 2245.18,806.94 2247.02,802.63 2248.87,798.31 2250.71,793.99 2252.56,789.67 2254.4,785.35"/>
<polyline class="curve dash" stroke="#d62728" points="411.4,785.35 413.24,779.68 415.09,774.01 416.93,768.34 418.78,762.67 420.62,757.01 422.47,751.34 424.31,745.69 426.16,740.03 428,734.39 429.85,728.74 431.69,723.11 433.54,717.48 435.38,711.86 437.23,706.25 439.07,700.65 440.92,695.06 442.76,689.48 444.61,683.91 446.45,678.35 448.3,672.8 450.14,667.27 451.99,661.75 453.83,656.25 455.68,650.76 457.52,645.28 459.37,639.82 461.21,634.38 463.06,628.96 464.9,623.55 466.75,618.16 468.59,612.79 470.44,607.44 472.28,602.11 474.12,596.8 475.97,591.51 477.81,586.24 479.66,580.99 481.5,575.77 483.35,570.57 485.19,565.39 487.04,560.23 488.88,555.1 490.73,550 492.57,544.92 494.42,539.86 496.26,534.83 498.11,529.83 499.95,524.85 501.8,519.9 503.64,514.98 505.49,510.08 507.33,505.22 509.18,500.38 511.02,495.57 512.87,490.79 514.71,486.04 516.56,481.31 518.4,476.62 520.25,471.96 522.09,467.33 523.94,462.72 525.78,458.15 527.63,453.61 529.47,449.11 531.31,444.63 533.16,440.18 535,435.77 536.85,431.39 538.69,427.04 540.54,422.72 542.38,418.43 544.23,414.18 546.07,409.96 547.92,405.78 549.76,401.62 551.61,397.5 553.45,393.41 555.3,389.36 557.14,385.34 558.99,381.35 560.83,377.39 562.68,373.47 564.52,369.58 566.37,365.73 568.21,361.91 570.06,358.12 571.9,354.37 573.75,350.64 575.59,346.96 577.44,343.3 579.28,339.68 581.13,336.1 582.97,332.54 584.82,329.02 586.66,325.54 588.51,322.08 590.35,318.66 592.19,315.28 594.04,311.92 595.88,308.6 597.73,305.31 599.57,302.06 601.42,298.84 603.26,295.65 605.11,292.49 606.95,289.36 608.8,286.27 610.64,283.21 612.49,280.18 614.33,277.18 616.18,274.22 618.02,271.29 619.87,268.38 621.71,265.51 623.56,262.67 625.4,259.87 627.25,257.09 629.09,254.34 630.94,251.63 632.78,248.94 634.63,246.29 636.47,243.66 638.32,241.07 640.16,238.5 642.01,235.97 643.85,233.46 645.7,230.99 647.54,228.54 649.38,226.12 651.23,223.73 653.07,221.37 654.92,219.04 656.76,216.74 658.61,214.46 660.45,212.22 662.3,210 664.14,207.8 665.99,205.64 667.83,203.5 669.68,201.39 671.52,199.31 673.37,197.25 675.21,195.22 677.06,193.22 678.9,191.24 680.75,189.28 682.59,187.36 684.44,185.46 686.28,183.58 688.13,181.73 689.97,179.91 691.82,178.11 693.66,176.33 695.51,174.58 697.35,172.85 699.2,171.15 701.04,169.47 702.89,167.82 704.73,166.18 706.58,164.58 708.42,162.99 710.26,161.43 712.11,159.89 713.95,158.37 715.8,156.88 717.64,155.41 719.49,153.96 721.33,152.53 723.18,151.13 725.02,149.75 726.87,148.38 728.71,147.04 730.56,145.72 732.4,144.43 734.25,143.15 736.09,141.89 737.94,140.66 739.78,139.44 741.63,138.25 743.47,137.08 745.32,135.92 747.16,134.79 749.01,133.67 750.85,132.58 752.7,131.5 754.54,130.45 756.39,129.41 758.23,128.39 760.08,127.39 761.92,126.42 763.77,125.45 765.61,124.51 767.46,123.59 769.3,122.68 771.14,121.8 772.99,120.93 774.83,120.08 776.68,119.24 778.52,118.43 780.37,117.63 782.21,116.85 784.06,116.09 785.9,115.34 787.75,114.61 789.59,113.9 791.44,113.21 793.28,112.53 795.13,111.87 796.97,111.23 798.82,110.61 800.66,110 802.51,109.4 804.35,108.83 806.2,108.27 808.04,107.72 809.89,107.2 811.73,106.69 813.58,106.19 815.42,105.71 817.27,105.25 819.11,104.8 820.96,104.37 822.8,103.96 824.65,103.56 826.49,103.17 828.33,102.8 830.18,102.45 832.02,102.11 833.87,101.79 835.71,101.49 837.56,101.19 839.4,100.92 841.25,100.66 843.09,100.41 844.94,100.18 846.78,99.97 848.63,99.77 850.47,99.59 852.32,99.42 854.16,99.26 856.01,99.12 857.85,99 859.7,98.89 861.54,98.8 863.39,98.72 865.23,98.66 867.08,98.61 868.92,98.57 870.77,98.55 872.61,98.55 874.46,98.56 876.3,98.59 878.15,98.63 879.99,98.69 881.84,98.76 883.68,98.84 885.53,98.94 887.37,99.06 889.21,99.19 891.06,99.34 892.9,99.5 894.75,99.68 896.59,99.87 898.44,100.07 900.28,100.3 902.13,100.53 903.97,100.79 905.82,101.05 907.66,101.34 909.51,101.64 911.35,101.95 913.2,102.28 915.04,102.63 916.89,102.99 918.73,103.36 920.58,103.75 922.42,104.16 924.27,104.58 926.11,105.02 927.96,105.48 929.8,105.95 931.65,106.44 933.49,106.94 935.34,107.46 937.18,107.99 939.03,108.55 940.87,109.11 942.72,109.7 944.56,110.3 946.41,110.92 948.25,111.55 950.09,112.2 951.94,112.87 953.78,113.56 955.63,114.26 957.47,114.98 959.32,115.71 961.16,116.47 963.01,117.24 964.85,118.03 966.7,118.83 968.54,119.66 970.39,120.5 972.23,121.36 974.08,122.24 975.92,123.13 977.77,124.05 979.61,124.98 981.46,125.93 983.3,126.9 985.15,127.89 986.99,128.9 988.84,129.93 990.68,130.97 992.53,132.04 994.37,133.12 996.22,134.23 998.06,135.35 999.91,136.5 1001.75,137.66 1003.6,138.84 1005.44,140.05 1007.28,141.27 1009.13,142.52 1010.97,143.79 1012.82,145.07 1014.66,146.38 1016.51,147.71 1018.35,149.06 1020.2,150.43 1022.04,151.83 1023.89,153.24 1025.73,154.68 1027.58,156.14 1029.42,157.62 1031.27,159.13 1033.11,160.66 1034.96,162.21 1036.8,163.78 1038.65,165.38 1040.49,167 1042.34,168.64 1044.18,170.31 1046.03,172 1047.87,173.71 1049.72,175.45 1051.56,177.22 1053.41,179 1055.25,180.82 1057.1,182.65 1058.94,184.52 1060.79,186.4 1062.63,188.32 1064.48,190.26 1066.32,192.22 1068.16,194.21 1070.01,196.23 1071.85,198.28 1073.7,200.35 1075.54,202.44 1077.39,204.57 1079.23,206.72 1081.08,208.9 1082.92,211.1 1084.77,213.34 1086.61,215.6 1088.46,217.89 1090.3,220.2 1092.15,222.55 1093.99,224.93 1095.84,227.33 1097.68,229.76 1099.53,232.22 1101.37,234.71 1103.22,237.23 1105.06,239.78 1106.91,242.36 1108.75,244.97 1110.6,247.61 1112.44,250.28 1114.29,252.98 1116.13,255.71 1117.98,258.47 1119.82,261.27 1121.67,264.09 1123.51,266.94 1125.35,269.83 1127.2,272.75 1129.04,275.7 1130.89,278.68 1132.73,281.69 1134.58,284.74 1136.42,287.81 1138.27,290.92 1140.11,294.06 1141.96,297.24 1143.8,300.44 1145.65,303.68 1147.49,306.95 1149.34,310.26 1151.18,313.6 1153.03,316.97 1154.87,320.37 1156.72,323.81 1158.56,327.28 1160.41,330.78 1162.25,334.32 1164.1,337.89 1165.94,341.49 1167.79,345.13 1169.63,348.8 1171.48,352.5 1173.32,356.24 1175.17,360.01 1177.01,363.81 1178.86,367.65 1180.7,371.52 1182.55,375.43 1184.39,379.37 1186.23,383.34 1188.08,387.34 1189.92,391.38 1191.77,395.45 1193.61,399.56 1195.46,403.69 1197.3,407.86 1199.15,412.07 1200.99,416.3 1202.84,420.57 1204.68,424.87 1206.53,429.21 1208.37,433.57 1210.22,437.97 1212.06,442.4 1213.91,446.86 1215.75,451.36 1217.6,455.88 1219.44,460.44 1221.29,465.02 1223.13,469.64 1224.98,474.29 1226.82,478.96 1228.67,483.67 1230.51,488.41 1232.36,493.17 1234.2,497.97 1236.05,502.79 1237.89,507.65 1239.74,512.53 1241.58,517.44 1243.43,522.37 1245.27,527.34 1247.11,532.33 1248.96,537.34 1250.8,542.39 1252.65,547.45 1254.49,552.55 1256.34,557.67 1258.18,562.81 1260.03,567.97 1261.87,573.16 1263.72,578.38 1265.56,583.61 1267.41,588.87 1269.25,594.15 1271.1,599.45 1272.94,604.77 1274.79,610.11 1276.63,615.47 1278.48,620.85 1280.32,626.25 1282.17,631.67 1284.01,637.1 1285.86,642.55 1287.7,648.02 1289.55,653.5 1291.39,659 1293.24,664.51 1295.08,670.03 1296.93,675.57 1298.77,681.13 1300.62,686.69 1302.46,692.27 1304.3,697.85 1306.15,703.45 1307.99,709.06 1309.84,714.67 1311.68,720.29 1313.53,725.93 1315.37,731.56 1317.22,737.21 1319.06,742.86 1320.91,748.51 1322.75,754.17 1324.6,759.84 1326.44,765.5 1328.29,771.17 1330.13,776.84 1331.98,782.51 1333.82,788.19 1335.67,793.86 1337.51,799.53 1339.36,805.2 1341.2,810.86 1343.05,816.53 1344.89,822.19 1346.74,827.84 1348.58,833.49 1350.43,839.14 1352.27,844.77 1354.12,850.41 1355.96,856.03 1357.81,861.64 1359.65,867.25 1361.5,872.85 1363.34,878.43 1365.18,884.01 1367.03,889.57 1368.87,895.13 1370.72,900.67 1372.56,906.19 1374.41,911.7 1376.25,917.2 1378.1,922.68 1379.94,928.15 1381.79,933.6 1383.63,939.03 1385.48,944.45 1387.32,949.85 1389.17,955.23 1391.01,960.59 1392.86,965.93 1394.7,971.25 1396.55,976.55 1398.39,981.83 1400.24,987.09 1402.08,992.32 1403.93,997.54 1405.77,1002.73 1407.62,1007.89 1409.46,1013.03 1411.31,1018.15 1413.15,1023.25 1415,1028.31 1416.84,1033.36 1418.69,1038.37 1420.53,1043.36 1422.37,1048.33 1424.22,1053.26 1426.06,1058.17 1427.91,1063.05 1429.75,1067.91 1431.6,1072.73 1433.44,1077.53 1435.29,1082.29 1437.13,1087.03 1438.98,1091.74 1440.82,1096.41 1442.67,1101.06 1444.51,1105.68 1446.36,1110.26 1448.2,1114.82 1450.05,1119.34 1451.89,1123.84 1453.74,1128.3 1455.58,1132.73 1457.43,1137.13 1459.27,1141.49 1461.12,1145.83 1462.96,1150.13 1464.81,1154.4 1466.65,1158.63 1468.5,1162.84 1470.34,1167.01 1472.19,1171.14 1474.03,1175.25 1475.88,1179.32 1477.72,1183.36 1479.57,1187.36 1481.41,1191.33 1483.25,1195.27 1485.1,1199.18 1486.94,1203.05 1488.79,1206.89 1490.63,1210.69 1492.48,1214.46 1494.32,1218.2 1496.17,1221.9 1498.01,1225.57 1499.86,1229.21 1501.7,1232.81 1503.55,1236.38 1505.39,1239.92 1507.24,1243.42 1509.08,1246.89 1510.93,1250.33 1512.77,1253.73 1514.62,1257.1 1516.46,1260.44 1518.31,1263.75 1520.15,1267.02 1522,1270.26 1523.84,1273.46 1525.69,1276.64 1527.53,1279.78 1529.38,1282.89 1531.22,1285.96 1533.07,1289.01 1534.91,1292.02 1536.76,1295 1538.6,1297.95 1540.45,1300.87 1542.29,1303.76 1544.13,1306.61 1545.98,1309.43 1547.82,1312.23 1549.67,1314.99 1551.51,1317.72 1553.36,1320.42 1555.2,1323.09 1557.05,1325.73 1558.89,1328.34 1560.74,1330.92 1562.58,1333.47 1564.43,1335.99 1566.27,1338.48 1568.12,1340.94 1569.96,1343.37 1571.81,1345.77 1573.65,1348.15 1575.5,1350.5 1577.34,1352.81 1579.19,1355.1 1581.03,1357.36 1582.88,1359.6 1584.72,1361.8 1586.57,1363.98 1588.41,1366.13 1590.26,1368.26 1592.1,1370.35 1593.95,1372.42 1595.79,1374.47 1597.64,1376.49 1599.48,1378.48 1601.32,1380.44 1603.17,1382.38 1605.01,1384.3 1606.86,1386.18 1608.7,1388.05 1610.55,1389.88 1612.39,1391.7 1614.24,1393.48 1616.08,1395.25 1617.93,1396.99 1619.77,1398.7 1621.62,1400.39 1623.46,1402.06 1625.31,1403.7 1627.15,1405.32 1629,1406.92 1630.84,1408.49 1632.69,1410.04 1634.53,1411.57 1636.38,1413.08 1638.22,1414.56 1640.07,1416.02 1641.91,1417.46 1643.76,1418.87 1645.6,1420.27 1647.45,1421.64 1649.29,1422.99 1651.14,1424.32 1652.98,1425.63 1654.83,1426.91 1656.67,1428.18 1658.52,1429.43 1660.36,1430.65 1662.2,1431.86 1664.05,1433.04 1665.89,1434.2 1667.74,1435.35 1669.58,1436.47 1671.43,1437.58 1673.27,1438.66 1675.12,1439.73 1676.96,1440.77 1678.81,1441.8 1680.65,1442.81 1682.5,1443.8 1684.34,1444.77 1686.19,1445.72 1688.03,1446.65 1689.88,1447.57 1691.72,1448.46 1693.57,1449.34 1695.41,1450.2 1697.26,1451.04 1699.1,1451.87 1700.95,1452.67 1702.79,1453.46 1704.64,1454.23 1706.48,1454.99 1708.33,1455.72 1710.17,1456.44 1712.02,1457.14 1713.86,1457.83 1715.71,1458.5 1717.55,1459.15 1719.39,1459.78 1721.24,1460.4 1723.08,1461 1724.93,1461.59 1726.77,1462.15 1728.62,1462.71 1730.46,1463.24 1732.31,1463.76 1734.15,1464.26 1736,1464.75 1737.84,1465.22 1739.69,1465.68 1741.53,1466.12 1743.38,1466.54 1745.22,1466.95 1747.07,1467.34 1748.91,1467.71 1750.76,1468.07 1752.6,1468.42 1754.45,1468.75 1756.29,1469.06 1758.14,1469.36 1759.98,1469.65 1761.83,1469.91 1763.67,1470.17 1765.52,1470.4 1767.36,1470.63 1769.21,1470.83 1771.05,1471.02 1772.9,1471.2 1774.74,1471.36 1776.59,1471.51 1778.43,1471.64 1780.27,1471.76 1782.12,1471.86 1783.96,1471.94 1785.81,1472.01 1787.65,1472.07 1789.5,1472.11 1791.34,1472.14 1793.19,1472.15 1795.03,1472.15 1796.88,1472.13 1798.72,1472.09 1800.57,1472.04 1802.41,1471.98 1804.26,1471.9 1806.1,1471.81 1807.95,1471.7 1809.79,1471.58 1811.64,1471.44 1813.48,1471.28 1815.33,1471.11 1817.17,1470.93 1819.02,1470.73 1820.86,1470.52 1822.71,1470.29 1824.55,1470.04 1826.4,1469.78 1828.24,1469.51 1830.09,1469.21 1831.93,1468.91 1833.78,1468.59 1835.62,1468.25 1837.47,1467.9 1839.31,1467.53 1841.15,1467.14 1843,1466.74 1844.84,1466.33 1846.69,1465.9 1848.53,1465.45 1850.38,1464.99 1852.22,1464.51 1854.07,1464.01 1855.91,1463.5 1857.76,1462.98 1859.6,1462.43 1861.45,1461.87 1863.29,1461.3 1865.14,1460.7 1866.98,1460.09 1868.83,1459.47 1870.67,1458.83 1872.52,1458.17 1874.36,1457.49 1876.21,1456.8 1878.05,1456.09 1879.9,1455.36 1881.74,1454.61 1883.59,1453.85 1885.43,1453.07 1887.28,1452.27 1889.12,1451.46 1890.97,1450.62 1892.81,1449.77 1894.66,1448.9 1896.5,1448.02 1898.34,1447.11 1900.19,1446.19 1902.03,1445.25 1903.88,1444.28 1905.72,1443.31 1907.57,1442.31 1909.41,1441.29 1911.26,1440.25 1913.1,1439.2 1914.95,1438.12 1916.79,1437.03 1918.64,1435.91 1920.48,1434.78 1922.33,1433.62 1924.17,1432.45 1926.02,1431.26 1927.86,1430.04 1929.71,1428.81 1931.55,1427.55 1933.4,1426.27 1935.24,1424.98 1937.09,1423.66 1938.93,1422.32 1940.78,1420.95 1942.62,1419.57 1944.47,1418.17 1946.31,1416.74 1948.16,1415.29 1950,1413.82 1951.85,1412.33 1953.69,1410.81 1955.54,1409.27 1957.38,1407.71 1959.22,1406.12 1961.07,1404.52 1962.91,1402.88 1964.76,1401.23 1966.6,1399.55 1968.45,1397.85 1970.29,1396.12 1972.14,1394.37 1973.98,1392.59 1975.83,1390.79 1977.67,1388.97 1979.52,1387.12 1981.36,1385.24 1983.21,1383.34 1985.05,1381.42 1986.9,1379.46 1988.74,1377.48 1990.59,1375.48 1992.43,1373.45 1994.28,1371.39 1996.12,1369.31 1997.97,1367.2 1999.81,1365.06 2001.66,1362.9 2003.5,1360.7 2005.35,1358.48 2007.19,1356.24 2009.04,1353.96 2010.88,1351.66 2012.73,1349.33 2014.57,1346.97 2016.42,1344.58 2018.26,1342.16 2020.1,1339.71 2021.95,1337.24 2023.79,1334.73 2025.64,1332.2 2027.48,1329.63 2029.33,1327.04 2031.17,1324.41 2033.02,1321.76 2034.86,1319.07 2036.71,1316.36 2038.55,1313.61 2040.4,1310.83 2042.24,1308.03 2044.09,1305.19 2045.93,1302.32 2047.78,1299.41 2049.62,1296.48 2051.47,1293.52 2053.31,1290.52 2055.16,1287.49 2057,1284.43 2058.85,1281.34 2060.69,1278.21 2062.54,1275.05 2064.38,1271.86 2066.23,1268.64 2068.07,1265.39 2069.92,1262.1 2071.76,1258.78 2073.61,1255.42 2075.45,1252.04 2077.29,1248.62 2079.14,1245.16 2080.98,1241.68 2082.83,1238.16 2084.67,1234.6 2086.52,1231.02 2088.36,1227.4 2090.21,1223.74 2092.05,1220.06 2093.9,1216.33 2095.74,1212.58 2097.59,1208.79 2099.43,1204.97 2101.28,1201.12 2103.12,1197.23 2104.97,1193.31 2106.81,1189.35 2108.66,1185.36 2110.5,1181.34 2112.35,1177.29 2114.19,1173.2 2116.04,1169.08 2117.88,1164.92 2119.73,1160.74 2121.57,1156.52 2123.42,1152.27 2125.26,1147.98 2127.11,1143.66 2128.95,1139.31 2130.8,1134.93 2132.64,1130.52 2134.49,1126.07 2136.33,1121.59 2138.17,1117.09 2140.02,1112.55 2141.86,1107.98 2143.71,1103.37 2145.55,1098.74 2147.4,1094.08 2149.24,1089.39 2151.09,1084.66 2152.93,1079.91 2154.78,1075.13 2156.62,1070.32 2158.47,1065.48 2160.31,1060.62 2162.16,1055.72 2164,1050.8 2165.85,1045.85 2167.69,1040.87 2169.54,1035.87 2171.38,1030.84 2173.23,1025.78 2175.07,1020.7 2176.92,1015.6 2178.76,1010.47 2180.61,1005.31 2182.45,1000.13 2184.3,994.93 2186.14,989.71 2187.99,984.46 2189.83,979.19 2191.68,973.9 2193.52,968.59 2195.36,963.26 2197.21,957.91 2199.05,952.54 2200.9,947.15 2202.74,941.74 2204.59,936.32 2206.43,930.88 2208.28,925.42 2210.12,919.94 2211.97,914.45 2213.81,908.95 2215.66,903.43 2217.5,897.9 2219.35,892.35 2221.19,886.79 2223.04,881.22 2224.88,875.64 2226.73,870.05 2228.57,864.45 2230.42,858.84 2232.26,853.22 2234.11,847.59 2235.95,841.96 2237.8,836.31 2239.64,830.67 2241.49,825.01 2243.33,819.36 2245.18,813.69 2247.02,808.03 2248.87,802.36 2250.71,796.69 2252.56,791.02 2254.4,785.35"/>
<polyline class="curve dash" stroke="#9467bd" points="411.4,785.35 413.24,772.33 415.09,759.32 416.93,746.32 418.78,733.36 420.62,720.44 422.47,707.56 424.31,694.74 426.16,681.99 428,669.32 429.85,656.72 431.69,644.23 433.54,631.83 435.38,619.54 437.23,607.37 439.07,595.32 440.92,583.41 442.76,571.63 444.61,559.99 446.45,548.51 448.3,537.18 450.14,526.01 451.99,515.01 453.83,504.17 455.68,493.51 457.52,483.03 459.37,472.72 461.21,462.6 463.06,452.67 464.9,442.92 466.75,433.36 468.59,423.99 470.44,414.81 472.28,405.82 474.12,397.03 475.97,388.42 477.81,380.01 479.66,371.8 481.5,363.77 483.35,355.93 485.19,348.28 487.04,340.82 488.88,333.54 490.73,326.45 492.57,319.54 494.42,312.81 496.26,306.25 498.11,299.87 499.95,293.66 501.8,287.62 503.64,281.75 505.49,276.04 507.33,270.49 509.18,265.09 511.02,259.86 512.87,254.77 514.71,249.83 516.56,245.04 518.4,240.39 520.25,235.87 522.09,231.5 523.94,227.25 525.78,223.13 527.63,219.14 529.47,215.27 531.31,211.52 533.16,207.89 535,204.37 536.85,200.96 538.69,197.66 540.54,194.46 542.38,191.37 544.23,188.37 546.07,185.47 547.92,182.66 549.76,179.94 551.61,177.3 553.45,174.76 555.3,172.29 557.14,169.91 558.99,167.6 560.83,165.37 562.68,163.21 564.52,161.12 566.37,159.09 568.21,157.14 570.06,155.25 571.9,153.42 573.75,151.65 575.59,149.94 577.44,148.28 579.28,146.68 581.13,145.13 582.97,143.64 584.82,142.19 586.66,140.79 588.51,139.43 590.35,138.12 592.19,136.86 594.04,135.63 595.88,134.45 597.73,133.3 599.57,132.19 601.42,131.12 603.26,130.08 605.11,129.08 606.95,128.11 608.8,127.17 610.64,126.26 612.49,125.38 614.33,124.53 616.18,123.71 618.02,122.92 619.87,122.15 621.71,121.4 623.56,120.68 625.4,119.98 627.25,119.31 629.09,118.65 630.94,118.02 632.78,117.41 634.63,116.82 636.47,116.24 638.32,115.69 640.16,115.15 642.01,114.63 643.85,114.12 645.7,113.64 647.54,113.16 649.38,112.7 651.23,112.26 653.07,111.83 654.92,111.42 656.76,111.01 658.61,110.62 660.45,110.24 662.3,109.88 664.14,109.52 665.99,109.18 667.83,108.84 669.68,108.52 671.52,108.21 673.37,107.9 675.21,107.61 677.06,107.32 678.9,107.04 680.75,106.78 682.59,106.52 684.44,106.26 686.28,106.02 688.13,105.78 689.97,105.55 691.82,105.33 693.66,105.11 695.51,104.9 697.35,104.7 699.2,104.5 701.04,104.3 702.89,104.12 704.73,103.94 706.58,103.76 708.42,103.59 710.26,103.43 712.11,103.27 713.95,103.11 715.8,102.96 717.64,102.81 719.49,102.67 721.33,102.53 723.18,102.4 725.02,102.26 726.87,102.14 728.71,102.01 730.56,101.9 732.4,101.78 734.25,101.67 736.09,101.56 737.94,101.45 739.78,101.35 741.63,101.25 743.47,101.15 745.32,101.06 747.16,100.96 749.01,100.87 750.85,100.79 752.7,100.7 754.54,100.62 756.39,100.54 758.23,100.47 760.08,100.39 761.92,100.32 763.77,100.25 765.61,100.18 767.46,100.11 769.3,100.05 771.14,99.99 772.99,99.93 774.83,99.87 776.68,99.81 778.52,99.75 780.37,99.7 782.21,99.65 784.06,99.6 785.9,99.55 787.75,99.5 789.59,99.46 791.44,99.41 793.28,99.37 795.13,99.33 796.97,99.29 798.82,99.25 800.66,99.21 802.51,99.17 804.35,99.14 806.2,99.1 808.04,99.07 809.89,99.04 811.73,99.01 813.58,98.98 815.42,98.95 817.27,98.93 819.11,98.9 820.96,98.87 822.8,98.85 824.65,98.83 826.49,98.81 828.33,98.79 830.18,98.77 832.02,98.75 833.87,98.73 835.71,98.71 837.56,98.69 839.4,98.68 841.25,98.67 843.09,98.65 844.94,98.64 846.78,98.63 848.63,98.62 850.47,98.61 852.32,98.6 854.16,98.59 856.01,98.58 857.85,98.57 859.7,98.57 861.54,98.56 863.39,98.56 865.23,98.56 867.08,98.55 868.92,98.55 870.77,98.55 872.61,98.55 874.46,98.55 876.3,98.55 878.15,98.55 879.99,98.56 881.84,98.56 883.68,98.57 885.53,98.57 887.37,98.58 889.21,98.58 891.06,98.59 892.9,98.6 894.75,98.61 896.59,98.62 898.44,98.63 900.28,98.65 902.13,98.66 903.97,98.67 905.82,98.69 907.66,98.7 909.51,98.72 911.35,98.74 913.2,98.76 915.04,98.78 916.89,98.8 918.73,98.82 920.58,98.84 922.42,98.86 924.27,98.89 926.11,98.91 927.96,98.94 929.8,98.97 931.65,99 933.49,99.03 935.34,99.06 937.18,99.09 939.03,99.12 940.87,99.16 942.72,99.19 944.56,99.23 946.41,99.27 948.25,99.31 950.09,99.35 951.94,99.39 953.78,99.43 955.63,99.48 957.47,99.53 959.32,99.57 961.16,99.62 963.01,99.67 964.85,99.73 966.7,99.78 968.54,99.84 970.39,99.9 972.23,99.96 974.08,100.02 975.92,100.08 977.77,100.15 979.61,100.21 981.46,100.28 983.3,100.35 985.15,100.43 986.99,100.5 988.84,100.58 990.68,100.66 992.53,100.75 994.37,100.83 996.22,100.92 998.06,101.01 999.91,101.1 1001.75,101.2 1003.6,101.3 1005.44,101.4 1007.28,101.5 1009.13,101.61 1010.97,101.72 1012.82,101.84 1014.66,101.95 1016.51,102.08 1018.35,102.2 1020.2,102.33 1022.04,102.46 1023.89,102.6 1025.73,102.74 1027.58,102.88 1029.42,103.03 1031.27,103.19 1033.11,103.34 1034.96,103.51 1036.8,103.68 1038.65,103.85 1040.49,104.03 1042.34,104.21 1044.18,104.4 1046.03,104.6 1047.87,104.8 1049.72,105 1051.56,105.22 1053.41,105.44 1055.25,105.66 1057.1,105.9 1058.94,106.14 1060.79,106.39 1062.63,106.64 1064.48,106.91 1066.32,107.18 1068.16,107.46 1070.01,107.75 1071.85,108.05 1073.7,108.36 1075.54,108.68 1077.39,109.01 1079.23,109.35 1081.08,109.7 1082.92,110.06 1084.77,110.43 1086.61,110.82 1088.46,111.21 1090.3,111.62 1092.15,112.04 1093.99,112.48 1095.84,112.93 1097.68,113.4 1099.53,113.88 1101.37,114.37 1103.22,114.89 1105.06,115.42 1106.91,115.96 1108.75,116.53 1110.6,117.11 1112.44,117.71 1114.29,118.33 1116.13,118.98 1117.98,119.64 1119.82,120.33 1121.67,121.04 1123.51,121.77 1125.35,122.53 1127.2,123.31 1129.04,124.12 1130.89,124.95 1132.73,125.82 1134.58,126.71 1136.42,127.64 1138.27,128.59 1140.11,129.58 1141.96,130.6 1143.8,131.65 1145.65,132.74 1147.49,133.87 1149.34,135.03 1151.18,136.24 1153.03,137.49 1154.87,138.77 1156.72,140.11 1158.56,141.48 1160.41,142.91 1162.25,144.38 1164.1,145.9 1165.94,147.48 1167.79,149.1 1169.63,150.79 1171.48,152.53 1173.32,154.33 1175.17,156.19 1177.01,158.11 1178.86,160.1 1180.7,162.15 1182.55,164.28 1184.39,166.47 1186.23,168.74 1188.08,171.09 1189.92,173.51 1191.77,176.02 1193.61,178.61 1195.46,181.28 1197.3,184.05 1199.15,186.9 1200.99,189.85 1202.84,192.9 1204.68,196.05 1206.53,199.3 1208.37,202.65 1210.22,206.12 1212.06,209.69 1213.91,213.38 1215.75,217.19 1217.6,221.12 1219.44,225.18 1221.29,229.36 1223.13,233.67 1224.98,238.11 1226.82,242.69 1228.67,247.42 1230.51,252.28 1232.36,257.29 1234.2,262.46 1236.05,267.77 1237.89,273.24 1239.74,278.87 1241.58,284.66 1243.43,290.62 1245.27,296.74 1247.11,303.04 1248.96,309.51 1250.8,316.15 1252.65,322.97 1254.49,329.97 1256.34,337.16 1258.18,344.53 1260.03,352.08 1261.87,359.83 1263.72,367.76 1265.56,375.88 1267.41,384.2 1269.25,392.7 1271.1,401.4 1272.94,410.29 1274.79,419.37 1276.63,428.65 1278.48,438.11 1280.32,447.77 1282.17,457.61 1284.01,467.64 1285.86,477.85 1287.7,488.25 1289.55,498.82 1291.39,509.57 1293.24,520.49 1295.08,531.58 1296.93,542.83 1298.77,554.23 1300.62,565.79 1302.46,577.5 1304.3,589.35 1306.15,601.33 1307.99,613.44 1309.84,625.67 1311.68,638.01 1313.53,650.46 1315.37,663.01 1317.22,675.64 1319.06,688.36 1320.91,701.14 1322.75,713.99 1324.6,726.89 1326.44,739.84 1328.29,752.82 1330.13,765.82 1331.98,778.84 1333.82,791.86 1335.67,804.88 1337.51,817.88 1339.36,830.86 1341.2,843.81 1343.05,856.71 1344.89,869.56 1346.74,882.34 1348.58,895.06 1350.43,907.69 1352.27,920.24 1354.12,932.69 1355.96,945.03 1357.81,957.26 1359.65,969.37 1361.5,981.35 1363.34,993.2 1365.18,1004.91 1367.03,1016.47 1368.87,1027.87 1370.72,1039.12 1372.56,1050.21 1374.41,1061.13 1376.25,1071.88 1378.1,1082.45 1379.94,1092.85 1381.79,1103.06 1383.63,1113.09 1385.48,1122.93 1387.32,1132.59 1389.17,1142.05 1391.01,1151.33 1392.86,1160.41 1394.7,1169.3 1396.55,1178 1398.39,1186.5 1400.24,1194.82 1402.08,1202.94 1403.93,1210.87 1405.77,1218.62 1407.62,1226.17 1409.46,1233.54 1411.31,1240.73 1413.15,1247.73 1415,1254.55 1416.84,1261.19 1418.69,1267.66 1420.53,1273.96 1422.37,1280.08 1424.22,1286.04 1426.06,1291.83 1427.91,1297.46 1429.75,1302.93 1431.6,1308.24 1433.44,1313.41 1435.29,1318.42 1437.13,1323.28 1438.98,1328.01 1440.82,1332.59 1442.67,1337.03 1444.51,1341.34 1446.36,1345.52 1448.2,1349.58 1450.05,1353.51 1451.89,1357.32 1453.74,1361.01 1455.58,1364.58 1457.43,1368.05 1459.27,1371.4 1461.12,1374.65 1462.96,1377.8 1464.81,1380.85 1466.65,1383.8 1468.5,1386.65 1470.34,1389.42 1472.19,1392.09 1474.03,1394.68 1475.88,1397.19 1477.72,1399.61 1479.57,1401.96 1481.41,1404.23 1483.25,1406.42 1485.1,1408.55 1486.94,1410.6 1488.79,1412.59 1490.63,1414.51 1492.48,1416.37 1494.32,1418.17 1496.17,1419.91 1498.01,1421.6 1499.86,1423.22 1501.7,1424.8 1503.55,1426.32 1505.39,1427.79 1507.24,1429.22 1509.08,1430.59 1510.93,1431.93 1512.77,1433.21 1514.62,1434.46 1516.46,1435.67 1518.31,1436.83 1520.15,1437.96 1522,1439.05 1523.84,1440.1 1525.69,1441.12 1527.53,1442.11 1529.38,1443.06 1531.22,1443.99 1533.07,1444.88 1534.91,1445.75 1536.76,1446.58 1538.6,1447.39 1540.45,1448.17 1542.29,1448.93 1544.13,1449.66 1545.98,1450.37 1547.82,1451.06 1549.67,1451.72 1551.51,1452.37 1553.36,1452.99 1555.2,1453.59 1557.05,1454.17 1558.89,1454.74 1560.74,1455.28 1562.58,1455.81 1564.43,1456.33 1566.27,1456.82 1568.12,1457.3 1569.96,1457.77 1571.81,1458.22 1573.65,1458.66 1575.5,1459.08 1577.34,1459.49 1579.19,1459.88 1581.03,1460.27 1582.88,1460.64 1584.72,1461 1586.57,1461.35 1588.41,1461.69 1590.26,1462.02 1592.1,1462.34 1593.95,1462.65 1595.79,1462.95 1597.64,1463.24 1599.48,1463.52 1601.32,1463.79 1603.17,1464.06 1605.01,1464.31 1606.86,1464.56 1608.7,1464.8 1610.55,1465.04 1612.39,1465.26 1614.24,1465.48 1616.08,1465.7 1617.93,1465.9 1619.77,1466.1 1621.62,1466.3 1623.46,1466.49 1625.31,1466.67 1627.15,1466.85 1629,1467.02 1630.84,1467.19 1632.69,1467.36 1634.53,1467.51 1636.38,1467.67 1638.22,1467.82 1640.07,1467.96 1641.91,1468.1 1643.76,1468.24 1645.6,1468.37 1647.45,1468.5 1649.29,1468.62 1651.14,1468.75 1652.98,1468.86 1654.83,1468.98 1656.67,1469.09 1658.52,1469.2 1660.36,1469.3 1662.2,1469.4 1664.05,1469.5 1665.89,1469.6 1667.74,1469.69 1669.58,1469.78 1671.43,1469.87 1673.27,1469.95 1675.12,1470.04 1676.96,1470.12 1678.81,1470.2 1680.65,1470.27 1682.5,1470.35 1684.34,1470.42 1686.19,1470.49 1688.03,1470.55 1689.88,1470.62 1691.72,1470.68 1693.57,1470.74 1695.41,1470.8 1697.26,1470.86 1699.1,1470.92 1700.95,1470.97 1702.79,1471.03 1704.64,1471.08 1706.48,1471.13 1708.33,1471.17 1710.17,1471.22 1712.02,1471.27 1713.86,1471.31 1715.71,1471.35 1717.55,1471.39 1719.39,1471.43 1721.24,1471.47 1723.08,1471.51 1724.93,1471.54 1726.77,1471.58 1728.62,1471.61 1730.46,1471.64 1732.31,1471.67 1734.15,1471.7 1736,1471.73 1737.84,1471.76 1739.69,1471.79 1741.53,1471.81 1743.38,1471.84 1745.22,1471.86 1747.07,1471.88 1748.91,1471.9 1750.76,1471.92 1752.6,1471.94 1754.45,1471.96 1756.29,1471.98 1758.14,1472 1759.98,1472.01 1761.83,1472.03 1763.67,1472.04 1765.52,1472.05 1767.36,1472.07 1769.21,1472.08 1771.05,1472.09 1772.9,1472.1 1774.74,1472.11 1776.59,1472.12 1778.43,1472.12 1780.27,1472.13 1782.12,1472.13 1783.96,1472.14 1785.81,1472.14 1787.65,1472.15 1789.5,1472.15 1791.34,1472.15 1793.19,1472.15 1795.03,1472.15 1796.88,1472.15 1798.72,1472.15 1800.57,1472.14 1802.41,1472.14 1804.26,1472.14 1806.1,1472.13 1807.95,1472.13 1809.79,1472.12 1811.64,1472.11 1813.48,1472.1 1815.33,1472.09 1817.17,1472.08 1819.02,1472.07 1820.86,1472.06 1822.71,1472.05 1824.55,1472.03 1826.4,1472.02 1828.24,1472.01 1830.09,1471.99 1831.93,1471.97 1833.78,1471.95 1835.62,1471.93 1837.47,1471.91 1839.31,1471.89 1841.15,1471.87 1843,1471.85 1844.84,1471.83 1846.69,1471.8 1848.53,1471.77 1850.38,1471.75 1852.22,1471.72 1854.07,1471.69 1855.91,1471.66 1857.76,1471.63 1859.6,1471.6 1861.45,1471.56 1863.29,1471.53 1865.14,1471.49 1866.98,1471.45 1868.83,1471.41 1870.67,1471.37 1872.52,1471.33 1874.36,1471.29 1876.21,1471.24 1878.05,1471.2 1879.9,1471.15 1881.74,1471.1 1883.59,1471.05 1885.43,1471 1887.28,1470.95 1889.12,1470.89 1890.97,1470.83 1892.81,1470.77 1894.66,1470.71 1896.5,1470.65 1898.34,1470.59 1900.19,1470.52 1902.03,1470.45 1903.88,1470.38 1905.72,1470.31 1907.57,1470.23 1909.41,1470.16 1911.26,1470.08 1913.1,1470 1914.95,1469.91 1916.79,1469.83 1918.64,1469.74 1920.48,1469.64 1922.33,1469.55 1924.17,1469.45 1926.02,1469.35 1927.86,1469.25 1929.71,1469.14 1931.55,1469.03 1933.4,1468.92 1935.24,1468.8 1937.09,1468.69 1938.93,1468.56 1940.78,1468.44 1942.62,1468.3 1944.47,1468.17 1946.31,1468.03 1948.16,1467.89 1950,1467.74 1951.85,1467.59 1953.69,1467.43 1955.54,1467.27 1957.38,1467.11 1959.22,1466.94 1961.07,1466.76 1962.91,1466.58 1964.76,1466.4 1966.6,1466.2 1968.45,1466 1970.29,1465.8 1972.14,1465.59 1973.98,1465.37 1975.83,1465.15 1977.67,1464.92 1979.52,1464.68 1981.36,1464.44 1983.21,1464.18 1985.05,1463.92 1986.9,1463.66 1988.74,1463.38 1990.59,1463.09 1992.43,1462.8 1994.28,1462.49 1996.12,1462.18 1997.97,1461.86 1999.81,1461.52 2001.66,1461.18 2003.5,1460.82 2005.35,1460.46 2007.19,1460.08 2009.04,1459.69 2010.88,1459.28 2012.73,1458.87 2014.57,1458.44 2016.42,1458 2018.26,1457.54 2020.1,1457.06 2021.95,1456.58 2023.79,1456.07 2025.64,1455.55 2027.48,1455.01 2029.33,1454.46 2031.17,1453.88 2033.02,1453.29 2034.86,1452.68 2036.71,1452.05 2038.55,1451.39 2040.4,1450.72 2042.24,1450.02 2044.09,1449.3 2045.93,1448.55 2047.78,1447.78 2049.62,1446.99 2051.47,1446.17 2053.31,1445.32 2055.16,1444.44 2057,1443.53 2058.85,1442.59 2060.69,1441.62 2062.54,1440.62 2064.38,1439.58 2066.23,1438.51 2068.07,1437.4 2069.92,1436.25 2071.76,1435.07 2073.61,1433.84 2075.45,1432.58 2077.29,1431.27 2079.14,1429.91 2080.98,1428.51 2082.83,1427.06 2084.67,1425.57 2086.52,1424.02 2088.36,1422.42 2090.21,1420.76 2092.05,1419.05 2093.9,1417.28 2095.74,1415.45 2097.59,1413.56 2099.43,1411.61 2101.28,1409.58 2103.12,1407.49 2104.97,1405.33 2106.81,1403.1 2108.66,1400.79 2110.5,1398.41 2112.35,1395.94 2114.19,1393.4 2116.04,1390.76 2117.88,1388.04 2119.73,1385.23 2121.57,1382.33 2123.42,1379.33 2125.26,1376.24 2127.11,1373.04 2128.95,1369.74 2130.8,1366.33 2132.64,1362.81 2134.49,1359.18 2136.33,1355.43 2138.17,1351.56 2140.02,1347.57 2141.86,1343.45 2143.71,1339.2 2145.55,1334.83 2147.4,1330.31 2149.24,1325.66 2151.09,1320.87 2152.93,1315.93 2154.78,1310.84 2156.62,1305.61 2158.47,1300.21 2160.31,1294.66 2162.16,1288.95 2164,1283.08 2165.85,1277.04 2167.69,1270.83 2169.54,1264.45 2171.38,1257.89 2173.23,1251.16 2175.07,1244.25 2176.92,1237.16 2178.76,1229.88 2180.61,1222.42 2182.45,1214.77 2184.3,1206.93 2186.14,1198.9 2187.99,1190.69 2189.83,1182.28 2191.68,1173.67 2193.52,1164.88 2195.36,1155.89 2197.21,1146.71 2199.05,1137.34 2200.9,1127.78 2202.74,1118.03 2204.59,1108.1 2206.43,1097.98 2208.28,1087.67 2210.12,1077.19 2211.97,1066.53 2213.81,1055.69 2215.66,1044.69 2217.5,1033.52 2219.35,1022.19 2221.19,1010.71 2223.04,999.07 2224.88,987.29 2226.73,975.38 2228.57,963.33 2230.42,951.16 2232.26,938.87 2234.11,926.47 2235.95,913.98 2237.8,901.38 2239.64,888.71 2241.49,875.96 2243.33,863.14 2245.18,850.26 2247.02,837.34 2248.87,824.38 2250.71,811.38 2252.56,798.37 2254.4,785.35"/>
<polyline class="curve dash" stroke="#8c564b" points="411.4,785.35 413.24,763.76 415.09,742.21 416.93,720.75 418.78,699.41 420.62,678.25 422.47,657.3 424.31,636.59 426.16,616.17 428,596.08 429.85,576.33 431.69,556.96 433.54,538.01 435.38,519.48 437.23,501.41 439.07,483.81 440.92,466.69 442.76,450.08 444.61,433.98 446.45,418.39 448.3,403.33 450.14,388.79 451.99,374.78 453.83,361.29 455.68,348.32 457.52,335.87 459.37,323.92 461.21,312.48 463.06,301.52 464.9,291.05 466.75,281.04 468.59,271.48 470.44,262.37 472.28,253.69 474.12,245.42 475.97,237.56 477.81,230.08 479.66,222.97 481.5,216.22 483.35,209.81 485.19,203.73 487.04,197.96 488.88,192.5 490.73,187.32 492.57,182.42 494.42,177.78 496.26,173.39 498.11,169.24 499.95,165.32 501.8,161.6 503.64,158.09 505.49,154.78 507.33,151.65 509.18,148.69 511.02,145.89 512.87,143.26 514.71,140.77 516.56,138.42 518.4,136.2 520.25,134.1 522.09,132.13 523.94,130.26 525.78,128.51 527.63,126.85 529.47,125.28 531.31,123.8 533.16,122.41 535,121.1 536.85,119.86 538.69,118.69 540.54,117.58 542.38,116.54 544.23,115.56 546.07,114.64 547.92,113.76 549.76,112.94 551.61,112.16 553.45,111.42 555.3,110.73 557.14,110.08 558.99,109.46 560.83,108.88 562.68,108.33 564.52,107.81 566.37,107.32 568.21,106.85 570.06,106.42 571.9,106 573.75,105.61 575.59,105.24 577.44,104.9 579.28,104.57 581.13,104.26 582.97,103.96 584.82,103.68 586.66,103.42 588.51,103.17 590.35,102.94 592.19,102.71 594.04,102.5 595.88,102.3 597.73,102.12 599.57,101.94 601.42,101.77 603.26,101.61 605.11,101.46 606.95,101.32 608.8,101.18 610.64,101.05 612.49,100.93 614.33,100.81 616.18,100.7 618.02,100.6 619.87,100.5 621.71,100.41 623.56,100.32 625.4,100.24 627.25,100.16 629.09,100.08 630.94,100.01 632.78,99.94 634.63,99.88 636.47,99.81 638.32,99.76 640.16,99.7 642.01,99.65 643.85,99.6 645.7,99.55 647.54,99.5 649.38,99.46 651.23,99.42 653.07,99.38 654.92,99.34 656.76,99.31 658.61,99.27 660.45,99.24 662.3,99.21 664.14,99.18 665.99,99.15 667.83,99.13 669.68,99.1 671.52,99.08 673.37,99.06 675.21,99.03 677.06,99.01 678.9,98.99 680.75,98.97 682.59,98.96 684.44,98.94 686.28,98.92 688.13,98.91 689.97,98.89 691.82,98.88 693.66,98.86 695.51,98.85 697.35,98.84 699.2,98.83 701.04,98.81 702.89,98.8 704.73,98.79 706.58,98.78 708.42,98.77 710.26,98.76 712.11,98.75 713.95,98.75 715.8,98.74 717.64,98.73 719.49,98.72 721.33,98.71 723.18,98.71 725.02,98.7 726.87,98.7 728.71,98.69 730.56,98.68 732.4,98.68 734.25,98.67 736.09,98.67 737.94,98.66 739.78,98.66 741.63,98.65 743.47,98.65 745.32,98.64 747.16,98.64 749.01,98.64 750.85,98.63 752.7,98.63 754.54,98.63 756.39,98.62 758.23,98.62 760.08,98.62 761.92,98.61 763.77,98.61 765.61,98.61 767.46,98.6 769.3,98.6 771.14,98.6 772.99,98.6 774.83,98.6 776.68,98.59 778.52,98.59 780.37,98.59 782.21,98.59 784.06,98.59 785.9,98.58 787.75,98.58 789.59,98.58 791.44,98.58 793.28,98.58 795.13,98.58 796.97,98.57 798.82,98.57 800.66,98.57 802.51,98.57 804.35,98.57 806.2,98.57 808.04,98.57 809.89,98.57 811.73,98.56 813.58,98.56 815.42,98.56 817.27,98.56 819.11,98.56 820.96,98.56 822.8,98.56 824.65,98.56 826.49,98.56 828.33,98.56 830.18,98.56 832.02,98.56 833.87,98.56 835.71,98.55 837.56,98.55 839.4,98.55 841.25,98.55 843.09,98.55 844.94,98.55 846.78,98.55 848.63,98.55 850.47,98.55 852.32,98.55 854.16,98.55 856.01,98.55 857.85,98.55 859.7,98.55 861.54,98.55 863.39,98.55 865.23,98.55 867.08,98.55 868.92,98.55 870.77,98.55 872.61,98.55 874.46,98.55 876.3,98.55 878.15,98.55 879.99,98.55 881.84,98.55 883.68,98.55 885.53,98.55 887.37,98.55 889.21,98.55 891.06,98.55 892.9,98.55 894.75,98.55 896.59,98.55 898.44,98.55 900.28,98.55 902.13,98.55 903.97,98.55 905.82,98.55 907.66,98.55 909.51,98.56 911.35,98.56 913.2,98.56 915.04,98.56 916.89,98.56 918.73,98.56 920.58,98.56 922.42,98.56 924.27,98.56 926.11,98.56 927.96,98.56 929.8,98.56 931.65,98.56 933.49,98.57 935.34,98.57 937.18,98.57 939.03,98.57 940.87,98.57 942.72,98.57 944.56,98.57 946.41,98.57 948.25,98.57 950.09,98.58 951.94,98.58 953.78,98.58 955.63,98.58 957.47,98.58 959.32,98.58 961.16,98.59 963.01,98.59 964.85,98.59 966.7,98.59 968.54,98.59 970.39,98.6 972.23,98.6 974.08,98.6 975.92,98.6 977.77,98.61 979.61,98.61 981.46,98.61 983.3,98.61 985.15,98.62 986.99,98.62 988.84,98.62 990.68,98.63 992.53,98.63 994.37,98.63 996.22,98.64 998.06,98.64 999.91,98.65 1001.75,98.65 1003.6,98.66 1005.44,98.66 1007.28,98.66 1009.13,98.67 1010.97,98.67 1012.82,98.68 1014.66,98.69 1016.51,98.69 1018.35,98.7 1020.2,98.7 1022.04,98.71 1023.89,98.72 1025.73,98.73 1027.58,98.73 1029.42,98.74 1031.27,98.75 1033.11,98.76 1034.96,98.77 1036.8,98.78 1038.65,98.79 1040.49,98.8 1042.34,98.81 1044.18,98.82 1046.03,98.83 1047.87,98.84 1049.72,98.86 1051.56,98.87 1053.41,98.88 1055.25,98.9 1057.1,98.91 1058.94,98.93 1060.79,98.95 1062.63,98.96 1064.48,98.98 1066.32,99 1068.16,99.02 1070.01,99.04 1071.85,99.07 1073.7,99.09 1075.54,99.12 1077.39,99.14 1079.23,99.17 1081.08,99.2 1082.92,99.23 1084.77,99.26 1086.61,99.29 1088.46,99.33 1090.3,99.36 1092.15,99.4 1093.99,99.44 1095.84,99.48 1097.68,99.53 1099.53,99.57 1101.37,99.62 1103.22,99.67 1105.06,99.73 1106.91,99.78 1108.75,99.84 1110.6,99.91 1112.44,99.97 1114.29,100.04 1116.13,100.12 1117.98,100.2 1119.82,100.28 1121.67,100.36 1123.51,100.45 1125.35,100.55 1127.2,100.65 1129.04,100.76 1130.89,100.87 1132.73,100.99 1134.58,101.11 1136.42,101.25 1138.27,101.39 1140.11,101.53 1141.96,101.69 1143.8,101.85 1145.65,102.03 1147.49,102.21 1149.34,102.4 1151.18,102.61 1153.03,102.82 1154.87,103.05 1156.72,103.29 1158.56,103.55 1160.41,103.82 1162.25,104.11 1164.1,104.41 1165.94,104.73 1167.79,105.07 1169.63,105.43 1171.48,105.81 1173.32,106.21 1175.17,106.63 1177.01,107.08 1178.86,107.56 1180.7,108.06 1182.55,108.6 1184.39,109.16 1186.23,109.76 1188.08,110.4 1189.92,111.07 1191.77,111.79 1193.61,112.54 1195.46,113.34 1197.3,114.19 1199.15,115.09 1200.99,116.05 1202.84,117.06 1204.68,118.13 1206.53,119.26 1208.37,120.47 1210.22,121.74 1212.06,123.1 1213.91,124.53 1215.75,126.05 1217.6,127.66 1219.44,129.37 1221.29,131.18 1223.13,133.1 1224.98,135.14 1226.82,137.29 1228.67,139.57 1230.51,141.99 1232.36,144.56 1234.2,147.27 1236.05,150.15 1237.89,153.19 1239.74,156.41 1241.58,159.82 1243.43,163.43 1245.27,167.25 1247.11,171.29 1248.96,175.56 1250.8,180.07 1252.65,184.84 1254.49,189.88 1256.34,195.19 1258.18,200.81 1260.03,206.73 1261.87,212.97 1263.72,219.55 1265.56,226.48 1267.41,233.77 1269.25,241.44 1271.1,249.51 1272.94,257.98 1274.79,266.87 1276.63,276.21 1278.48,285.99 1280.32,296.23 1282.17,306.94 1284.01,318.14 1285.86,329.83 1287.7,342.03 1289.55,354.74 1291.39,367.97 1293.24,381.72 1295.08,395.99 1296.93,410.79 1298.77,426.12 1300.62,441.96 1302.46,458.32 1304.3,475.19 1306.15,492.55 1307.99,510.39 1309.84,528.69 1311.68,547.43 1313.53,566.6 1315.37,586.16 1317.22,606.08 1319.06,626.35 1320.91,646.91 1322.75,667.74 1324.6,688.81 1326.44,710.06 1328.29,731.46 1330.13,752.97 1331.98,774.55 1333.82,796.15 1335.67,817.73 1337.51,839.24 1339.36,860.64 1341.2,881.89 1343.05,902.96 1344.89,923.79 1346.74,944.35 1348.58,964.62 1350.43,984.54 1352.27,1004.1 1354.12,1023.27 1355.96,1042.01 1357.81,1060.31 1359.65,1078.15 1361.5,1095.51 1363.34,1112.38 1365.18,1128.74 1367.03,1144.58 1368.87,1159.91 1370.72,1174.71 1372.56,1188.98 1374.41,1202.73 1376.25,1215.96 1378.1,1228.67 1379.94,1240.87 1381.79,1252.56 1383.63,1263.76 1385.48,1274.47 1387.32,1284.71 1389.17,1294.49 1391.01,1303.83 1392.86,1312.72 1394.7,1321.19 1396.55,1329.26 1398.39,1336.93 1400.24,1344.22 1402.08,1351.15 1403.93,1357.73 1405.77,1363.97 1407.62,1369.89 1409.46,1375.51 1411.31,1380.82 1413.15,1385.86 1415,1390.63 1416.84,1395.14 1418.69,1399.41 1420.53,1403.45 1422.37,1407.27 1424.22,1410.88 1426.06,1414.29 1427.91,1417.51 1429.75,1420.55 1431.6,1423.43 1433.44,1426.14 1435.29,1428.71 1437.13,1431.13 1438.98,1433.41 1440.82,1435.56 1442.67,1437.6 1444.51,1439.52 1446.36,1441.33 1448.2,1443.04 1450.05,1444.65 1451.89,1446.17 1453.74,1447.6 1455.58,1448.96 1457.43,1450.23 1459.27,1451.44 1461.12,1452.57 1462.96,1453.64 1464.81,1454.65 1466.65,1455.61 1468.5,1456.51 1470.34,1457.36 1472.19,1458.16 1474.03,1458.91 1475.88,1459.63 1477.72,1460.3 1479.57,1460.94 1481.41,1461.54 1483.25,1462.1 1485.1,1462.64 1486.94,1463.14 1488.79,1463.62 1490.63,1464.07 1492.48,1464.49 1494.32,1464.89 1496.17,1465.27 1498.01,1465.63 1499.86,1465.97 1501.7,1466.29 1503.55,1466.59 1505.39,1466.88 1507.24,1467.15 1509.08,1467.41 1510.93,1467.65 1512.77,1467.88 1514.62,1468.09 1516.46,1468.3 1518.31,1468.49 1520.15,1468.67 1522,1468.85 1523.84,1469.01 1525.69,1469.17 1527.53,1469.31 1529.38,1469.45 1531.22,1469.59 1533.07,1469.71 1534.91,1469.83 1536.76,1469.94 1538.6,1470.05 1540.45,1470.15 1542.29,1470.25 1544.13,1470.34 1545.98,1470.42 1547.82,1470.5 1549.67,1470.58 1551.51,1470.66 1553.36,1470.73 1555.2,1470.79 1557.05,1470.86 1558.89,1470.92 1560.74,1470.97 1562.58,1471.03 1564.43,1471.08 1566.27,1471.13 1568.12,1471.17 1569.96,1471.22 1571.81,1471.26 1573.65,1471.3 1575.5,1471.34 1577.34,1471.37 1579.19,1471.41 1581.03,1471.44 1582.88,1471.47 1584.72,1471.5 1586.57,1471.53 1588.41,1471.56 1590.26,1471.58 1592.1,1471.61 1593.95,1471.63 1595.79,1471.66 1597.64,1471.68 1599.48,1471.7 1601.32,1471.72 1603.17,1471.74 1605.01,1471.75 1606.86,1471.77 1608.7,1471.79 1610.55,1471.8 1612.39,1471.82 1614.24,1471.83 1616.08,1471.84 1617.93,1471.86 1619.77,1471.87 1621.62,1471.88 1623.46,1471.89 1625.31,1471.9 1627.15,1471.91 1629,1471.92 1630.84,1471.93 1632.69,1471.94 1634.53,1471.95 1636.38,1471.96 1638.22,1471.97 1640.07,1471.97 1641.91,1471.98 1643.76,1471.99 1645.6,1472 1647.45,1472 1649.29,1472.01 1651.14,1472.01 1652.98,1472.02 1654.83,1472.03 1656.67,1472.03 1658.52,1472.04 1660.36,1472.04 1662.2,1472.04 1664.05,1472.05 1665.89,1472.05 1667.74,1472.06 1669.58,1472.06 1671.43,1472.07 1673.27,1472.07 1675.12,1472.07 1676.96,1472.08 1678.81,1472.08 1680.65,1472.08 1682.5,1472.09 1684.34,1472.09 1686.19,1472.09 1688.03,1472.09 1689.88,1472.1 1691.72,1472.1 1693.57,1472.1 1695.41,1472.1 1697.26,1472.11 1699.1,1472.11 1700.95,1472.11 1702.79,1472.11 1704.64,1472.11 1706.48,1472.12 1708.33,1472.12 1710.17,1472.12 1712.02,1472.12 1713.86,1472.12 1715.71,1472.12 1717.55,1472.13 1719.39,1472.13 1721.24,1472.13 1723.08,1472.13 1724.93,1472.13 1726.77,1472.13 1728.62,1472.13 1730.46,1472.13 1732.31,1472.13 1734.15,1472.14 1736,1472.14 1737.84,1472.14 1739.69,1472.14 1741.53,1472.14 1743.38,1472.14 1745.22,1472.14 1747.07,1472.14 1748.91,1472.14 1750.76,1472.14 1752.6,1472.14 1754.45,1472.14 1756.29,1472.14 1758.14,1472.15 1759.98,1472.15 1761.83,1472.15 1763.67,1472.15 1765.52,1472.15 1767.36,1472.15 1769.21,1472.15 1771.05,1472.15 1772.9,1472.15 1774.74,1472.15 1776.59,1472.15 1778.43,1472.15 1780.27,1472.15 1782.12,1472.15 1783.96,1472.15 1785.81,1472.15 1787.65,1472.15 1789.5,1472.15 1791.34,1472.15 1793.19,1472.15 1795.03,1472.15 1796.88,1472.15 1798.72,1472.15 1800.57,1472.15 1802.41,1472.15 1804.26,1472.15 1806.1,1472.15 1807.95,1472.15 1809.79,1472.15 1811.64,1472.15 1813.48,1472.15 1815.33,1472.15 1817.17,1472.15 1819.02,1472.15 1820.86,1472.15 1822.71,1472.15 1824.55,1472.15 1826.4,1472.15 1828.24,1472.15 1830.09,1472.15 1831.93,1472.14 1833.78,1472.14 1835.62,1472.14 1837.47,1472.14 1839.31,1472.14 1841.15,1472.14 1843,1472.14 1844.84,1472.14 1846.69,1472.14 1848.53,1472.14 1850.38,1472.14 1852.22,1472.14 1854.07,1472.14 1855.91,1472.13 1857.76,1472.13 1859.6,1472.13 1861.45,1472.13 1863.29,1472.13 1865.14,1472.13 1866.98,1472.13 1868.83,1472.13 1870.67,1472.12 1872.52,1472.12 1874.36,1472.12 1876.21,1472.12 1878.05,1472.12 1879.9,1472.12 1881.74,1472.11 1883.59,1472.11 1885.43,1472.11 1887.28,1472.11 1889.12,1472.11 1890.97,1472.1 1892.81,1472.1 1894.66,1472.1 1896.5,1472.1 1898.34,1472.1 1900.19,1472.09 1902.03,1472.09 1903.88,1472.09 1905.72,1472.08 1907.57,1472.08 1909.41,1472.08 1911.26,1472.07 1913.1,1472.07 1914.95,1472.07 1916.79,1472.06 1918.64,1472.06 1920.48,1472.06 1922.33,1472.05 1924.17,1472.05 1926.02,1472.04 1927.86,1472.04 1929.71,1472.03 1931.55,1472.03 1933.4,1472.02 1935.24,1472.02 1937.09,1472.01 1938.93,1472 1940.78,1472 1942.62,1471.99 1944.47,1471.99 1946.31,1471.98 1948.16,1471.97 1950,1471.96 1951.85,1471.95 1953.69,1471.95 1955.54,1471.94 1957.38,1471.93 1959.22,1471.92 1961.07,1471.91 1962.91,1471.9 1964.76,1471.89 1966.6,1471.87 1968.45,1471.86 1970.29,1471.85 1972.14,1471.84 1973.98,1471.82 1975.83,1471.81 1977.67,1471.79 1979.52,1471.78 1981.36,1471.76 1983.21,1471.74 1985.05,1471.73 1986.9,1471.71 1988.74,1471.69 1990.59,1471.67 1992.43,1471.64 1994.28,1471.62 1996.12,1471.6 1997.97,1471.57 1999.81,1471.55 2001.66,1471.52 2003.5,1471.49 2005.35,1471.46 2007.19,1471.43 2009.04,1471.39 2010.88,1471.36 2012.73,1471.32 2014.57,1471.28 2016.42,1471.24 2018.26,1471.2 2020.1,1471.15 2021.95,1471.1 2023.79,1471.05 2025.64,1471 2027.48,1470.94 2029.33,1470.89 2031.17,1470.82 2033.02,1470.76 2034.86,1470.69 2036.71,1470.62 2038.55,1470.54 2040.4,1470.46 2042.24,1470.38 2044.09,1470.29 2045.93,1470.2 2047.78,1470.1 2049.62,1470 2051.47,1469.89 2053.31,1469.77 2055.16,1469.65 2057,1469.52 2058.85,1469.38 2060.69,1469.24 2062.54,1469.09 2064.38,1468.93 2066.23,1468.76 2068.07,1468.58 2069.92,1468.4 2071.76,1468.2 2073.61,1467.99 2075.45,1467.76 2077.29,1467.53 2079.14,1467.28 2080.98,1467.02 2082.83,1466.74 2084.67,1466.44 2086.52,1466.13 2088.36,1465.8 2090.21,1465.46 2092.05,1465.09 2093.9,1464.7 2095.74,1464.28 2097.59,1463.85 2099.43,1463.38 2101.28,1462.89 2103.12,1462.37 2104.97,1461.82 2106.81,1461.24 2108.66,1460.62 2110.5,1459.97 2112.35,1459.28 2114.19,1458.54 2116.04,1457.76 2117.88,1456.94 2119.73,1456.06 2121.57,1455.14 2123.42,1454.16 2125.26,1453.12 2127.11,1452.01 2128.95,1450.84 2130.8,1449.6 2132.64,1448.29 2134.49,1446.9 2136.33,1445.42 2138.17,1443.85 2140.02,1442.19 2141.86,1440.44 2143.71,1438.57 2145.55,1436.6 2147.4,1434.5 2149.24,1432.28 2151.09,1429.93 2152.93,1427.44 2154.78,1424.81 2156.62,1422.01 2158.47,1419.05 2160.31,1415.92 2162.16,1412.61 2164,1409.1 2165.85,1405.38 2167.69,1401.46 2169.54,1397.31 2171.38,1392.92 2173.23,1388.28 2175.07,1383.38 2176.92,1378.2 2178.76,1372.74 2180.61,1366.97 2182.45,1360.89 2184.3,1354.48 2186.14,1347.73 2187.99,1340.62 2189.83,1333.14 2191.68,1325.28 2193.52,1317.01 2195.36,1308.33 2197.21,1299.22 2199.05,1289.66 2200.9,1279.65 2202.74,1269.18 2204.59,1258.22 2206.43,1246.78 2208.28,1234.83 2210.12,1222.38 2211.97,1209.41 2213.81,1195.92 2215.66,1181.91 2217.5,1167.37 2219.35,1152.31 2221.19,1136.72 2223.04,1120.62 2224.88,1104.01 2226.73,1086.89 2228.57,1069.29 2230.42,1051.22 2232.26,1032.69 2234.11,1013.74 2235.95,994.37 2237.8,974.62 2239.64,954.53 2241.49,934.11 2243.33,913.4 2245.18,892.45 2247.02,871.29 2248.87,849.95 2250.71,828.49 2252.56,806.94 2254.4,785.35"/>
</g>
<g fill="#000" shape-rendering="crispEdges">
<rect x="409" y="1538" width="5" height="23"/>
<rect x="777" y="1538" width="6" height="23"/>
<rect x="1146" y="1538" width="5" height="23"/>
<rect x="1514" y="1538" width="6" height="23"/>
<rect x="1883" y="1538" width="6" height="23"/>
<rect x="2252" y="1538" width="5" height="23"/>
<rect x="299" y="96" width="23" height="5"/>
<rect x="299" y="267" width="23" height="6"/>
<rect x="299" y="439" width="23" height="6"/>
<rect x="299" y="611" width="23" height="5"/>
<rect x="299" y="783" width="23" height="5"/>
<rect x="299" y="954" width="23" height="6"/>
<rect x="299" y="1126" width="23" height="6"/>
<rect x="299" y="1298" width="23" height="5"/>
<rect x="299" y="1469" width="23" height="6"/>
<rect x="316" y="27" width="6" height="1517"/>
<rect x="2344" y="27" width="5" height="1517"/>
<rect x="316" y="27" width="2033" height="5"/>
<rect x="316" y="1538" width="2033" height="6"/>
</g>
<g filter="url(#crisp)">
<g text-anchor="middle">
<text x="411.4" y="1624">0.0</text>
<text x="780" y="1624">0.2</text>
<text x="1148.6" y="1624">0.4</text>
<text x="1517.2" y="1624">0.6</text>
<text x="1885.8" y="1624">0.8</text>
<text x="2254.4" y="1624">1.0</text>
</g>
<g text-anchor="end">
<text x="280" y="120.12">1.00</text>
<text x="280" y="291.82">0.75</text>
<text x="280" y="463.52">0.50</text>
<text x="280" y="635.22">0.25</text>
<text x="280" y="806.92">0.00</text>
<text x="280" y="978.62">−0.25</text>
<text x="280" y="1150.32">−0.50</text>
<text x="280" y="1322.02">−0.75</text>
<text x="280" y="1493.72">−1.00</text>
</g>
<text x="1332.9" y="1701" text-anchor="middle">Time (s)</text>
<g transform="translate(64 1003.38) rotate(-90)">
<text y="0"><tspan x="0">Flap Angle, </tspan><tspan class="it" x="334.96">θ</tspan><tspan x="369.7">(</tspan><tspan class="it" x="391.85">t</tspan><tspan x="414.11">)</tspan></text>
</g>
</g>
<g shape-rendering="crispEdges">
<path d="M1903.85 586.5H2307.15Q2318.5 586.5 2318.5 575.15V69.35Q2318.5 58 2307.15 58H1903.85Q1892.5 58 1892.5 69.35V575.15Q1892.5 586.5 1903.85 586.5Z" fill="#fff" stroke="#ccc" stroke-width="6.68"/>
<line class="curve dash" stroke="#1f77b4" x1="1915.21" y1="106" x2="2028.76" y2="106"/>
<line class="curve dash" stroke="#ff7f0e" x1="1915.21" y1="191" x2="2028.76" y2="191"/>
<line class="curve" stroke="#2ca02c" stroke-linecap="square" x1="1915.21" y1="276.5" x2="2028.76" y2="276.5"/>
<line class="curve dash" stroke="#d62728" x1="1915.21" y1="361.5" x2="2028.76" y2="361.5"/>
<line class="curve dash" stroke="#9467bd" x1="1915.21" y1="446.5" x2="2028.76" y2="446.5"/>
<line class="curve dash" stroke="#8c564b" x1="1915.21" y1="532" x2="2028.76" y2="532"/>
</g>
<g filter="url(#crisp)">
<text y="121.88"><tspan class="it" x="2074.18">K</tspan><tspan class="sub" x="2111.41" dy="9.31">s</tspan><tspan x="2133.66" dy="-9.31">=-1</tspan></text>
<text y="207.75"><tspan class="it" x="2074.18">K</tspan><tspan class="sub" x="2111.41" dy="9.31">s</tspan><tspan x="2133.66" dy="-9.31">=-0.9</tspan></text>
<text y="292.91"><tspan class="it" x="2074.18">K</tspan><tspan class="sub" x="2111.41" dy="9.31">s</tspan><tspan x="2133.66" dy="-9.31">=0</tspan></text>
<text y="377.36"><tspan class="it" x="2074.18">K</tspan><tspan class="sub" x="2111.41" dy="9.31">s</tspan><tspan x="2133.66" dy="-9.31">=1</tspan></text>
<text y="463.23"><tspan class="it" x="2074.18">K</tspan><tspan class="sub" x="2111.41" dy="9.31">s</tspan><tspan x="2133.66" dy="-9.31">=3</tspan></text>
<text y="547.68"><tspan class="it" x="2074.18">K</tspan><tspan class="sub" x="2111.41" dy="9.31">s</tspan><tspan x="2133.66" dy="-9.31">=5</tspan></text>
</g>
</svg>
</body>
</html>
